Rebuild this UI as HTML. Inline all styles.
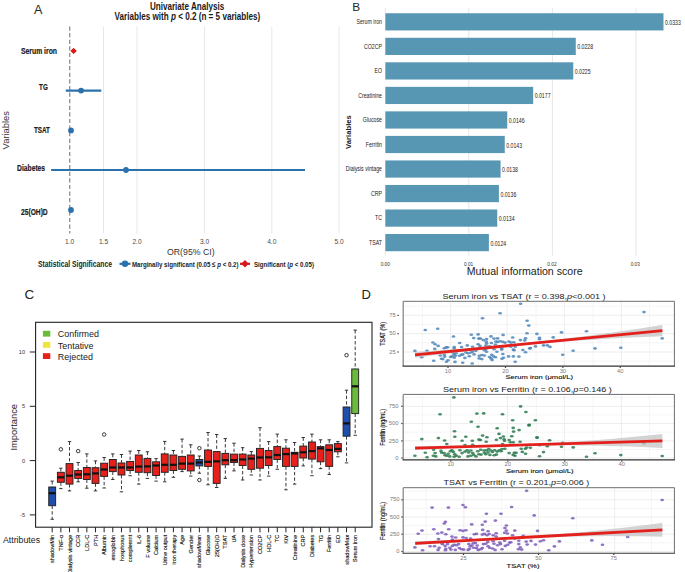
<!DOCTYPE html>
<html><head><meta charset="utf-8"><title>Figure</title>
<style>
html,body{margin:0;padding:0;background:#fff;}
body{width:685px;height:572px;overflow:hidden;}
svg{display:block;font-family:"Liberation Sans",sans-serif;}
</style></head>
<body>
<svg width="685" height="572" viewBox="0 0 685 572">
<rect width="685" height="572" fill="#fff"/>
<text x="34.00" y="14.00" font-size="12.6" fill="#222">A</text>
<text x="187.10" y="9.80" font-size="10.6" fill="#1a1a1a" font-weight="bold" text-anchor="middle" textLength="74.4" lengthAdjust="spacingAndGlyphs">Univariate Analysis</text>
<text x="187.40" y="19.60" font-size="10.6" fill="#1a1a1a" font-weight="bold" text-anchor="middle" textLength="145.8" lengthAdjust="spacingAndGlyphs">Variables with <tspan font-style="italic">p</tspan> &lt; 0.2 (n = 5 variables)</text>
<line x1="103.50" y1="26.50" x2="103.50" y2="233.50" stroke="#e7e7e7" stroke-width="1" />
<line x1="137.00" y1="26.50" x2="137.00" y2="233.50" stroke="#e7e7e7" stroke-width="1" />
<line x1="204.50" y1="26.50" x2="204.50" y2="233.50" stroke="#e7e7e7" stroke-width="1" />
<line x1="271.80" y1="26.50" x2="271.80" y2="233.50" stroke="#e7e7e7" stroke-width="1" />
<line x1="339.00" y1="26.50" x2="339.00" y2="233.50" stroke="#e7e7e7" stroke-width="1" />
<line x1="69.70" y1="26.50" x2="69.70" y2="233.50" stroke="#8f8f8f" stroke-width="1.3" stroke-dasharray="4.2 2.4"/>
<polygon points="70.4,50.9 73.6,47.7 76.8,50.9 73.6,54.1" fill="#d7191c"/>
<line x1="65.80" y1="90.60" x2="101.30" y2="90.60" stroke="#2b72ad" stroke-width="2.2" />
<circle cx="81.10" cy="90.60" r="2.90" fill="#2b72ad" />
<circle cx="71.00" cy="130.40" r="2.90" fill="#2b72ad" />
<line x1="51.10" y1="170.00" x2="305.00" y2="170.00" stroke="#2b72ad" stroke-width="2.2" />
<circle cx="126.00" cy="170.00" r="2.90" fill="#2b72ad" />
<circle cx="71.00" cy="210.00" r="2.90" fill="#2b72ad" />
<text x="21.00" y="53.90" font-size="8.8" fill="#1a1a1a" font-weight="bold" textLength="36.0" lengthAdjust="spacingAndGlyphs" stroke="#1a1a1a" stroke-width="0.2">Serum iron</text>
<text x="39.10" y="89.90" font-size="8.8" fill="#1a1a1a" font-weight="bold" textLength="8.699999999999996" lengthAdjust="spacingAndGlyphs" stroke="#1a1a1a" stroke-width="0.2">TG</text>
<text x="34.00" y="133.40" font-size="8.8" fill="#1a1a1a" font-weight="bold" textLength="15.899999999999999" lengthAdjust="spacingAndGlyphs" stroke="#1a1a1a" stroke-width="0.2">TSAT</text>
<text x="17.10" y="170.70" font-size="8.8" fill="#1a1a1a" font-weight="bold" textLength="28.0" lengthAdjust="spacingAndGlyphs" stroke="#1a1a1a" stroke-width="0.2">Diabetes</text>
<text x="21.00" y="214.70" font-size="8.8" fill="#1a1a1a" font-weight="bold" textLength="26.700000000000003" lengthAdjust="spacingAndGlyphs" stroke="#1a1a1a" stroke-width="0.2">25(OH)D</text>
<text transform="translate(9.40,130.20) rotate(-90)" x="0" y="0" font-size="9.0" fill="#333" text-anchor="middle" textLength="38.4" lengthAdjust="spacingAndGlyphs">Variables</text>
<text x="69.70" y="244.00" font-size="7.6" fill="#4a4a4a" text-anchor="middle" textLength="9.2" lengthAdjust="spacingAndGlyphs">1.0</text>
<text x="103.50" y="244.00" font-size="7.6" fill="#4a4a4a" text-anchor="middle" textLength="9.2" lengthAdjust="spacingAndGlyphs">1.5</text>
<text x="137.00" y="244.00" font-size="7.6" fill="#4a4a4a" text-anchor="middle" textLength="9.2" lengthAdjust="spacingAndGlyphs">2.0</text>
<text x="204.50" y="244.00" font-size="7.6" fill="#4a4a4a" text-anchor="middle" textLength="9.2" lengthAdjust="spacingAndGlyphs">3.0</text>
<text x="271.80" y="244.00" font-size="7.6" fill="#4a4a4a" text-anchor="middle" textLength="9.2" lengthAdjust="spacingAndGlyphs">4.0</text>
<text x="339.00" y="244.00" font-size="7.6" fill="#4a4a4a" text-anchor="middle" textLength="9.2" lengthAdjust="spacingAndGlyphs">5.0</text>
<text x="190.80" y="254.60" font-size="8.8" fill="#333" text-anchor="middle" textLength="47.6" lengthAdjust="spacingAndGlyphs">OR(95% CI)</text>
<text x="38.00" y="266.60" font-size="8.6" fill="#222" font-weight="bold" textLength="74.0" lengthAdjust="spacingAndGlyphs">Statistical Significance</text>
<line x1="119.50" y1="263.80" x2="130.50" y2="263.80" stroke="#2b72ad" stroke-width="2.2" />
<circle cx="125.00" cy="263.80" r="3.20" fill="#2b72ad" />
<text x="132.00" y="266.70" font-size="8.0" fill="#222" font-weight="bold" textLength="106.5" lengthAdjust="spacingAndGlyphs">Marginally significant (0.05 ≤ <tspan font-style="italic">p</tspan> &lt; 0.2)</text>
<line x1="240.00" y1="263.80" x2="250.00" y2="263.80" stroke="#d7191c" stroke-width="2.2" />
<polygon points="241.3,263.8 245.0,260.1 248.7,263.8 245.0,267.5" fill="#d7191c"/>
<text x="254.00" y="266.70" font-size="8.0" fill="#222" font-weight="bold" textLength="60.0" lengthAdjust="spacingAndGlyphs">Significant (<tspan font-style="italic">p</tspan> &lt; 0.05)</text>
<text x="352.30" y="10.80" font-size="11.8" fill="#222">B</text>
<line x1="468.80" y1="7.70" x2="468.80" y2="255.70" stroke="#e6e6e6" stroke-width="1" />
<line x1="552.40" y1="7.70" x2="552.40" y2="255.70" stroke="#e6e6e6" stroke-width="1" />
<line x1="635.90" y1="7.70" x2="635.90" y2="255.70" stroke="#e6e6e6" stroke-width="1" />
<rect x="385.30" y="13.25" width="278.19" height="17.20" fill="#5797b4" />
<text x="382.00" y="24.25" font-size="7.3" fill="#222" text-anchor="end" textLength="25.526861851562497" lengthAdjust="spacingAndGlyphs">Serum iron</text>
<text x="664.99" y="24.85" font-size="7.2" fill="#222" textLength="15.855831" lengthAdjust="spacingAndGlyphs">0.0333</text>
<rect x="385.30" y="37.78" width="190.47" height="17.20" fill="#5797b4" />
<text x="382.00" y="48.78" font-size="7.3" fill="#222" text-anchor="end" textLength="17.9828901484375" lengthAdjust="spacingAndGlyphs">CO2CP</text>
<text x="577.27" y="49.38" font-size="7.2" fill="#222" textLength="15.855831" lengthAdjust="spacingAndGlyphs">0.0228</text>
<rect x="385.30" y="62.31" width="187.97" height="17.20" fill="#5797b4" />
<text x="382.00" y="73.31" font-size="7.3" fill="#222" text-anchor="end" textLength="7.541280398437499" lengthAdjust="spacingAndGlyphs">EO</text>
<text x="574.76" y="73.91" font-size="7.2" fill="#222" textLength="15.855831" lengthAdjust="spacingAndGlyphs">0.0225</text>
<rect x="385.30" y="86.84" width="147.87" height="17.20" fill="#5797b4" />
<text x="382.00" y="97.84" font-size="7.3" fill="#222" text-anchor="end" textLength="23.7912149921875" lengthAdjust="spacingAndGlyphs">Creatinine</text>
<text x="534.67" y="98.44" font-size="7.2" fill="#222" textLength="15.855831" lengthAdjust="spacingAndGlyphs">0.0177</text>
<rect x="385.30" y="111.37" width="121.97" height="17.20" fill="#5797b4" />
<text x="382.00" y="122.37" font-size="7.3" fill="#222" text-anchor="end" textLength="19.147572640625" lengthAdjust="spacingAndGlyphs">Glucose</text>
<text x="508.77" y="122.97" font-size="7.2" fill="#222" textLength="15.855831" lengthAdjust="spacingAndGlyphs">0.0146</text>
<rect x="385.30" y="135.90" width="119.46" height="17.20" fill="#5797b4" />
<text x="382.00" y="146.90" font-size="7.3" fill="#222" text-anchor="end" textLength="16.2397402578125" lengthAdjust="spacingAndGlyphs">Ferritin</text>
<text x="506.26" y="147.50" font-size="7.2" fill="#222" textLength="15.855831" lengthAdjust="spacingAndGlyphs">0.0143</text>
<rect x="385.30" y="160.43" width="115.29" height="17.20" fill="#5797b4" />
<text x="382.00" y="171.43" font-size="7.3" fill="#222" text-anchor="end" textLength="36.261416039062496" lengthAdjust="spacingAndGlyphs">Dialysis vintage</text>
<text x="502.09" y="172.03" font-size="7.2" fill="#222" textLength="15.855831" lengthAdjust="spacingAndGlyphs">0.0138</text>
<rect x="385.30" y="184.96" width="113.61" height="17.20" fill="#5797b4" />
<text x="382.00" y="195.96" font-size="7.3" fill="#222" text-anchor="end" textLength="11.020158703125" lengthAdjust="spacingAndGlyphs">CRP</text>
<text x="500.41" y="196.56" font-size="7.2" fill="#222" textLength="15.855831" lengthAdjust="spacingAndGlyphs">0.0136</text>
<rect x="385.30" y="209.49" width="111.94" height="17.20" fill="#5797b4" />
<text x="382.00" y="220.49" font-size="7.3" fill="#222" text-anchor="end" textLength="6.9576750546875" lengthAdjust="spacingAndGlyphs">TC</text>
<text x="498.74" y="221.09" font-size="7.2" fill="#222" textLength="15.855831" lengthAdjust="spacingAndGlyphs">0.0134</text>
<rect x="385.30" y="234.02" width="103.59" height="17.20" fill="#5797b4" />
<text x="382.00" y="245.02" font-size="7.3" fill="#222" text-anchor="end" textLength="12.952026140624998" lengthAdjust="spacingAndGlyphs">TSAT</text>
<text x="490.39" y="245.62" font-size="7.2" fill="#222" textLength="15.855831" lengthAdjust="spacingAndGlyphs">0.0124</text>
<text transform="translate(351.20,132.00) rotate(-90)" x="0" y="0" font-size="7.4" fill="#222" font-weight="bold" text-anchor="middle" textLength="33.8" lengthAdjust="spacingAndGlyphs">Variables</text>
<line x1="385.30" y1="251.00" x2="385.30" y2="255.60" stroke="#e6e6e6" stroke-width="1" />
<line x1="385.30" y1="7.70" x2="385.30" y2="13.20" stroke="#e6e6e6" stroke-width="1" />
<text x="385.30" y="265.60" font-size="5.8" fill="#333" text-anchor="middle" textLength="9.3" lengthAdjust="spacingAndGlyphs">0.00</text>
<text x="468.60" y="265.60" font-size="5.8" fill="#333" text-anchor="middle" textLength="9.3" lengthAdjust="spacingAndGlyphs">0.01</text>
<text x="552.00" y="265.60" font-size="5.8" fill="#333" text-anchor="middle" textLength="9.3" lengthAdjust="spacingAndGlyphs">0.02</text>
<text x="635.30" y="265.60" font-size="5.8" fill="#333" text-anchor="middle" textLength="9.3" lengthAdjust="spacingAndGlyphs">0.03</text>
<text x="466.70" y="274.50" font-size="10.4" fill="#222" textLength="115.9" lengthAdjust="spacingAndGlyphs">Mutual information score</text>
<text x="24.50" y="298.90" font-size="13.4" fill="#222">C</text>
<rect x="35.60" y="322.30" width="336.40" height="204.90" fill="none" stroke="#222" stroke-width="1.1" />
<rect x="42.90" y="330.80" width="7.40" height="5.80" fill="#6cba3c" />
<text x="57.80" y="337.40" font-size="9.6" fill="#222" textLength="41.1833295" lengthAdjust="spacingAndGlyphs">Confirmed</text>
<rect x="42.90" y="342.00" width="7.40" height="5.80" fill="#f0e33a" />
<text x="57.80" y="348.60" font-size="9.6" fill="#222" textLength="35.7339015" lengthAdjust="spacingAndGlyphs">Tentative</text>
<rect x="42.90" y="353.20" width="7.40" height="5.80" fill="#e8201c" />
<text x="57.80" y="359.80" font-size="9.6" fill="#222" textLength="35.237002499999996" lengthAdjust="spacingAndGlyphs">Rejected</text>
<line x1="29.80" y1="352.00" x2="35.60" y2="352.00" stroke="#222" stroke-width="1" />
<text x="25.00" y="354.00" font-size="5.6" fill="#333" text-anchor="end">10</text>
<line x1="29.80" y1="406.30" x2="35.60" y2="406.30" stroke="#222" stroke-width="1" />
<text x="25.00" y="408.30" font-size="5.6" fill="#333" text-anchor="end">5</text>
<line x1="29.80" y1="460.60" x2="35.60" y2="460.60" stroke="#222" stroke-width="1" />
<text x="25.00" y="462.60" font-size="5.6" fill="#333" text-anchor="end">0</text>
<line x1="29.80" y1="514.90" x2="35.60" y2="514.90" stroke="#222" stroke-width="1" />
<text x="25.00" y="516.90" font-size="5.6" fill="#333" text-anchor="end">-5</text>
<text transform="translate(17.20,427.30) rotate(-90)" x="0" y="0" font-size="9.3" fill="#222" text-anchor="middle" textLength="46.6" lengthAdjust="spacingAndGlyphs">Importance</text>
<text x="2.90" y="543.20" font-size="9.6" fill="#222" textLength="37.2" lengthAdjust="spacingAndGlyphs">Attributes</text>
<line x1="52.20" y1="481.10" x2="52.20" y2="487.00" stroke="#222" stroke-width="0.9" stroke-dasharray="3.4 2.1"/>
<line x1="52.20" y1="505.70" x2="52.20" y2="519.30" stroke="#222" stroke-width="0.9" stroke-dasharray="3.4 2.1"/>
<line x1="50.50" y1="481.10" x2="53.90" y2="481.10" stroke="#222" stroke-width="0.9" />
<line x1="50.50" y1="519.30" x2="53.90" y2="519.30" stroke="#222" stroke-width="0.9" />
<rect x="48.75" y="487.00" width="6.90" height="18.70" fill="#1d4fab" stroke="#222" stroke-width="0.95" />
<line x1="48.75" y1="493.20" x2="55.65" y2="493.20" stroke="#111" stroke-width="2.2" />
<line x1="52.20" y1="527.20" x2="52.20" y2="532.30" stroke="#222" stroke-width="1" />
<text transform="translate(54.30,534.80) rotate(-90)" x="0" y="0" font-size="5.6" fill="#111" text-anchor="end" stroke="#111" stroke-width="0.12">shadowMin</text>
<line x1="60.86" y1="468.20" x2="60.86" y2="472.30" stroke="#222" stroke-width="0.9" stroke-dasharray="3.4 2.1"/>
<line x1="60.86" y1="482.30" x2="60.86" y2="488.60" stroke="#222" stroke-width="0.9" stroke-dasharray="3.4 2.1"/>
<line x1="59.16" y1="468.20" x2="62.56" y2="468.20" stroke="#222" stroke-width="0.9" />
<line x1="59.16" y1="488.60" x2="62.56" y2="488.60" stroke="#222" stroke-width="0.9" />
<rect x="57.41" y="472.30" width="6.90" height="10.00" fill="#e8201c" stroke="#222" stroke-width="0.95" />
<line x1="57.41" y1="477.30" x2="64.31" y2="477.30" stroke="#111" stroke-width="2.2" />
<circle cx="60.86" cy="449.30" r="1.75" fill="none" stroke="#222" stroke-width="0.9"/>
<line x1="60.86" y1="527.20" x2="60.86" y2="532.30" stroke="#222" stroke-width="1" />
<text transform="translate(62.96,534.80) rotate(-90)" x="0" y="0" font-size="5.6" fill="#111" text-anchor="end" stroke="#111" stroke-width="0.12">TNF-α</text>
<line x1="69.51" y1="441.60" x2="69.51" y2="463.60" stroke="#222" stroke-width="0.9" stroke-dasharray="3.4 2.1"/>
<line x1="69.51" y1="484.10" x2="69.51" y2="490.90" stroke="#222" stroke-width="0.9" stroke-dasharray="3.4 2.1"/>
<line x1="67.81" y1="441.60" x2="71.21" y2="441.60" stroke="#222" stroke-width="0.9" />
<line x1="67.81" y1="490.90" x2="71.21" y2="490.90" stroke="#222" stroke-width="0.9" />
<rect x="66.06" y="463.60" width="6.90" height="20.50" fill="#e8201c" stroke="#222" stroke-width="0.95" />
<line x1="66.06" y1="475.70" x2="72.96" y2="475.70" stroke="#111" stroke-width="2.2" />
<line x1="69.51" y1="527.20" x2="69.51" y2="532.30" stroke="#222" stroke-width="1" />
<text transform="translate(71.61,534.80) rotate(-90)" x="0" y="0" font-size="5.6" fill="#111" text-anchor="end" stroke="#111" stroke-width="0.12">Dialysis vintage</text>
<line x1="78.17" y1="462.50" x2="78.17" y2="470.50" stroke="#222" stroke-width="0.9" stroke-dasharray="3.4 2.1"/>
<line x1="78.17" y1="478.40" x2="78.17" y2="481.80" stroke="#222" stroke-width="0.9" stroke-dasharray="3.4 2.1"/>
<line x1="76.47" y1="462.50" x2="79.87" y2="462.50" stroke="#222" stroke-width="0.9" />
<line x1="76.47" y1="481.80" x2="79.87" y2="481.80" stroke="#222" stroke-width="0.9" />
<rect x="74.72" y="470.50" width="6.90" height="7.90" fill="#e8201c" stroke="#222" stroke-width="0.95" />
<line x1="74.72" y1="474.50" x2="81.62" y2="474.50" stroke="#111" stroke-width="2.2" />
<circle cx="78.17" cy="451.10" r="1.75" fill="none" stroke="#222" stroke-width="0.9"/>
<line x1="78.17" y1="527.20" x2="78.17" y2="532.30" stroke="#222" stroke-width="1" />
<text transform="translate(80.27,534.80) rotate(-90)" x="0" y="0" font-size="5.6" fill="#111" text-anchor="end" stroke="#111" stroke-width="0.12">CCR</text>
<line x1="86.83" y1="453.90" x2="86.83" y2="467.50" stroke="#222" stroke-width="0.9" stroke-dasharray="3.4 2.1"/>
<line x1="86.83" y1="479.50" x2="86.83" y2="488.20" stroke="#222" stroke-width="0.9" stroke-dasharray="3.4 2.1"/>
<line x1="85.13" y1="453.90" x2="88.53" y2="453.90" stroke="#222" stroke-width="0.9" />
<line x1="85.13" y1="488.20" x2="88.53" y2="488.20" stroke="#222" stroke-width="0.9" />
<rect x="83.38" y="467.50" width="6.90" height="12.00" fill="#e8201c" stroke="#222" stroke-width="0.95" />
<line x1="83.38" y1="474.30" x2="90.28" y2="474.30" stroke="#111" stroke-width="2.2" />
<line x1="86.83" y1="527.20" x2="86.83" y2="532.30" stroke="#222" stroke-width="1" />
<text transform="translate(88.93,534.80) rotate(-90)" x="0" y="0" font-size="5.6" fill="#111" text-anchor="end" stroke="#111" stroke-width="0.12">LDL-C</text>
<line x1="95.48" y1="460.90" x2="95.48" y2="467.70" stroke="#222" stroke-width="0.9" stroke-dasharray="3.4 2.1"/>
<line x1="95.48" y1="483.40" x2="95.48" y2="490.90" stroke="#222" stroke-width="0.9" stroke-dasharray="3.4 2.1"/>
<line x1="93.78" y1="460.90" x2="97.19" y2="460.90" stroke="#222" stroke-width="0.9" />
<line x1="93.78" y1="490.90" x2="97.19" y2="490.90" stroke="#222" stroke-width="0.9" />
<rect x="92.03" y="467.70" width="6.90" height="15.70" fill="#e8201c" stroke="#222" stroke-width="0.95" />
<line x1="92.03" y1="473.40" x2="98.94" y2="473.40" stroke="#111" stroke-width="2.2" />
<line x1="95.48" y1="527.20" x2="95.48" y2="532.30" stroke="#222" stroke-width="1" />
<text transform="translate(97.58,534.80) rotate(-90)" x="0" y="0" font-size="5.6" fill="#111" text-anchor="end" stroke="#111" stroke-width="0.12">PTH</text>
<line x1="104.14" y1="457.50" x2="104.14" y2="463.20" stroke="#222" stroke-width="0.9" stroke-dasharray="3.4 2.1"/>
<line x1="104.14" y1="476.40" x2="104.14" y2="488.00" stroke="#222" stroke-width="0.9" stroke-dasharray="3.4 2.1"/>
<line x1="102.44" y1="457.50" x2="105.84" y2="457.50" stroke="#222" stroke-width="0.9" />
<line x1="102.44" y1="488.00" x2="105.84" y2="488.00" stroke="#222" stroke-width="0.9" />
<rect x="100.69" y="463.20" width="6.90" height="13.20" fill="#e8201c" stroke="#222" stroke-width="0.95" />
<line x1="100.69" y1="469.50" x2="107.59" y2="469.50" stroke="#111" stroke-width="2.2" />
<circle cx="104.14" cy="434.50" r="1.75" fill="none" stroke="#222" stroke-width="0.9"/>
<line x1="104.14" y1="527.20" x2="104.14" y2="532.30" stroke="#222" stroke-width="1" />
<text transform="translate(106.24,534.80) rotate(-90)" x="0" y="0" font-size="5.6" fill="#111" text-anchor="end" stroke="#111" stroke-width="0.12">Albumin</text>
<line x1="112.80" y1="453.90" x2="112.80" y2="459.50" stroke="#222" stroke-width="0.9" stroke-dasharray="3.4 2.1"/>
<line x1="112.80" y1="471.60" x2="112.80" y2="479.50" stroke="#222" stroke-width="0.9" stroke-dasharray="3.4 2.1"/>
<line x1="111.10" y1="453.90" x2="114.50" y2="453.90" stroke="#222" stroke-width="0.9" />
<line x1="111.10" y1="479.50" x2="114.50" y2="479.50" stroke="#222" stroke-width="0.9" />
<rect x="109.35" y="459.50" width="6.90" height="12.10" fill="#e8201c" stroke="#222" stroke-width="0.95" />
<line x1="109.35" y1="467.50" x2="116.25" y2="467.50" stroke="#111" stroke-width="2.2" />
<line x1="112.80" y1="527.20" x2="112.80" y2="532.30" stroke="#222" stroke-width="1" />
<text transform="translate(114.90,534.80) rotate(-90)" x="0" y="0" font-size="5.6" fill="#111" text-anchor="end" stroke="#111" stroke-width="0.12">emoglobin</text>
<line x1="121.46" y1="454.50" x2="121.46" y2="463.00" stroke="#222" stroke-width="0.9" stroke-dasharray="3.4 2.1"/>
<line x1="121.46" y1="475.00" x2="121.46" y2="491.80" stroke="#222" stroke-width="0.9" stroke-dasharray="3.4 2.1"/>
<line x1="119.76" y1="454.50" x2="123.16" y2="454.50" stroke="#222" stroke-width="0.9" />
<line x1="119.76" y1="491.80" x2="123.16" y2="491.80" stroke="#222" stroke-width="0.9" />
<rect x="118.01" y="463.00" width="6.90" height="12.00" fill="#e8201c" stroke="#222" stroke-width="0.95" />
<line x1="118.01" y1="467.50" x2="124.91" y2="467.50" stroke="#111" stroke-width="2.2" />
<line x1="121.46" y1="527.20" x2="121.46" y2="532.30" stroke="#222" stroke-width="1" />
<text transform="translate(123.56,534.80) rotate(-90)" x="0" y="0" font-size="5.6" fill="#111" text-anchor="end" stroke="#111" stroke-width="0.12">hosphorus</text>
<line x1="130.11" y1="451.10" x2="130.11" y2="461.40" stroke="#222" stroke-width="0.9" stroke-dasharray="3.4 2.1"/>
<line x1="130.11" y1="470.50" x2="130.11" y2="475.70" stroke="#222" stroke-width="0.9" stroke-dasharray="3.4 2.1"/>
<line x1="128.41" y1="451.10" x2="131.81" y2="451.10" stroke="#222" stroke-width="0.9" />
<line x1="128.41" y1="475.70" x2="131.81" y2="475.70" stroke="#222" stroke-width="0.9" />
<rect x="126.66" y="461.40" width="6.90" height="9.10" fill="#e8201c" stroke="#222" stroke-width="0.95" />
<line x1="126.66" y1="467.50" x2="133.56" y2="467.50" stroke="#111" stroke-width="2.2" />
<line x1="130.11" y1="527.20" x2="130.11" y2="532.30" stroke="#222" stroke-width="1" />
<text transform="translate(132.21,534.80) rotate(-90)" x="0" y="0" font-size="5.6" fill="#111" text-anchor="end" stroke="#111" stroke-width="0.12">complemnt</text>
<line x1="138.77" y1="450.50" x2="138.77" y2="455.00" stroke="#222" stroke-width="0.9" stroke-dasharray="3.4 2.1"/>
<line x1="138.77" y1="472.30" x2="138.77" y2="484.10" stroke="#222" stroke-width="0.9" stroke-dasharray="3.4 2.1"/>
<line x1="137.07" y1="450.50" x2="140.47" y2="450.50" stroke="#222" stroke-width="0.9" />
<line x1="137.07" y1="484.10" x2="140.47" y2="484.10" stroke="#222" stroke-width="0.9" />
<rect x="135.32" y="455.00" width="6.90" height="17.30" fill="#e8201c" stroke="#222" stroke-width="0.95" />
<line x1="135.32" y1="466.60" x2="142.22" y2="466.60" stroke="#111" stroke-width="2.2" />
<line x1="138.77" y1="527.20" x2="138.77" y2="532.30" stroke="#222" stroke-width="1" />
<text transform="translate(140.87,534.80) rotate(-90)" x="0" y="0" font-size="5.6" fill="#111" text-anchor="end" stroke="#111" stroke-width="0.12">IL-6</text>
<line x1="147.43" y1="451.80" x2="147.43" y2="458.40" stroke="#222" stroke-width="0.9" stroke-dasharray="3.4 2.1"/>
<line x1="147.43" y1="472.70" x2="147.43" y2="478.40" stroke="#222" stroke-width="0.9" stroke-dasharray="3.4 2.1"/>
<line x1="145.73" y1="451.80" x2="149.13" y2="451.80" stroke="#222" stroke-width="0.9" />
<line x1="145.73" y1="478.40" x2="149.13" y2="478.40" stroke="#222" stroke-width="0.9" />
<rect x="143.98" y="458.40" width="6.90" height="14.30" fill="#e8201c" stroke="#222" stroke-width="0.95" />
<line x1="143.98" y1="466.40" x2="150.88" y2="466.40" stroke="#111" stroke-width="2.2" />
<line x1="147.43" y1="527.20" x2="147.43" y2="532.30" stroke="#222" stroke-width="1" />
<text transform="translate(149.53,534.80) rotate(-90)" x="0" y="0" font-size="5.6" fill="#111" text-anchor="end" stroke="#111" stroke-width="0.12">F volume</text>
<line x1="156.08" y1="458.60" x2="156.08" y2="461.80" stroke="#222" stroke-width="0.9" stroke-dasharray="3.4 2.1"/>
<line x1="156.08" y1="475.50" x2="156.08" y2="481.10" stroke="#222" stroke-width="0.9" stroke-dasharray="3.4 2.1"/>
<line x1="154.38" y1="458.60" x2="157.78" y2="458.60" stroke="#222" stroke-width="0.9" />
<line x1="154.38" y1="481.10" x2="157.78" y2="481.10" stroke="#222" stroke-width="0.9" />
<rect x="152.63" y="461.80" width="6.90" height="13.70" fill="#e8201c" stroke="#222" stroke-width="0.95" />
<line x1="152.63" y1="465.50" x2="159.53" y2="465.50" stroke="#111" stroke-width="2.2" />
<line x1="156.08" y1="527.20" x2="156.08" y2="532.30" stroke="#222" stroke-width="1" />
<text transform="translate(158.18,534.80) rotate(-90)" x="0" y="0" font-size="5.6" fill="#111" text-anchor="end" stroke="#111" stroke-width="0.12">Calcium</text>
<line x1="164.74" y1="441.40" x2="164.74" y2="453.90" stroke="#222" stroke-width="0.9" stroke-dasharray="3.4 2.1"/>
<line x1="164.74" y1="472.30" x2="164.74" y2="481.80" stroke="#222" stroke-width="0.9" stroke-dasharray="3.4 2.1"/>
<line x1="163.04" y1="441.40" x2="166.44" y2="441.40" stroke="#222" stroke-width="0.9" />
<line x1="163.04" y1="481.80" x2="166.44" y2="481.80" stroke="#222" stroke-width="0.9" />
<rect x="161.29" y="453.90" width="6.90" height="18.40" fill="#e8201c" stroke="#222" stroke-width="0.95" />
<line x1="161.29" y1="464.80" x2="168.19" y2="464.80" stroke="#111" stroke-width="2.2" />
<line x1="164.74" y1="527.20" x2="164.74" y2="532.30" stroke="#222" stroke-width="1" />
<text transform="translate(166.84,534.80) rotate(-90)" x="0" y="0" font-size="5.6" fill="#111" text-anchor="end" stroke="#111" stroke-width="0.12">Urine output</text>
<line x1="173.40" y1="450.50" x2="173.40" y2="455.00" stroke="#222" stroke-width="0.9" stroke-dasharray="3.4 2.1"/>
<line x1="173.40" y1="470.50" x2="173.40" y2="477.30" stroke="#222" stroke-width="0.9" stroke-dasharray="3.4 2.1"/>
<line x1="171.70" y1="450.50" x2="175.10" y2="450.50" stroke="#222" stroke-width="0.9" />
<line x1="171.70" y1="477.30" x2="175.10" y2="477.30" stroke="#222" stroke-width="0.9" />
<rect x="169.95" y="455.00" width="6.90" height="15.50" fill="#e8201c" stroke="#222" stroke-width="0.95" />
<line x1="169.95" y1="464.80" x2="176.85" y2="464.80" stroke="#111" stroke-width="2.2" />
<line x1="173.40" y1="527.20" x2="173.40" y2="532.30" stroke="#222" stroke-width="1" />
<text transform="translate(175.50,534.80) rotate(-90)" x="0" y="0" font-size="5.6" fill="#111" text-anchor="end" stroke="#111" stroke-width="0.12">Iron therapy</text>
<line x1="182.06" y1="439.10" x2="182.06" y2="456.40" stroke="#222" stroke-width="0.9" stroke-dasharray="3.4 2.1"/>
<line x1="182.06" y1="469.30" x2="182.06" y2="471.60" stroke="#222" stroke-width="0.9" stroke-dasharray="3.4 2.1"/>
<line x1="180.36" y1="439.10" x2="183.75" y2="439.10" stroke="#222" stroke-width="0.9" />
<line x1="180.36" y1="471.60" x2="183.75" y2="471.60" stroke="#222" stroke-width="0.9" />
<rect x="178.61" y="456.40" width="6.90" height="12.90" fill="#e8201c" stroke="#222" stroke-width="0.95" />
<line x1="178.61" y1="463.60" x2="185.50" y2="463.60" stroke="#111" stroke-width="2.2" />
<line x1="182.06" y1="527.20" x2="182.06" y2="532.30" stroke="#222" stroke-width="1" />
<text transform="translate(184.16,534.80) rotate(-90)" x="0" y="0" font-size="5.6" fill="#111" text-anchor="end" stroke="#111" stroke-width="0.12">Age</text>
<line x1="190.71" y1="444.80" x2="190.71" y2="455.00" stroke="#222" stroke-width="0.9" stroke-dasharray="3.4 2.1"/>
<line x1="190.71" y1="470.90" x2="190.71" y2="476.10" stroke="#222" stroke-width="0.9" stroke-dasharray="3.4 2.1"/>
<line x1="189.01" y1="444.80" x2="192.41" y2="444.80" stroke="#222" stroke-width="0.9" />
<line x1="189.01" y1="476.10" x2="192.41" y2="476.10" stroke="#222" stroke-width="0.9" />
<rect x="187.26" y="455.00" width="6.90" height="15.90" fill="#e8201c" stroke="#222" stroke-width="0.95" />
<line x1="187.26" y1="463.60" x2="194.16" y2="463.60" stroke="#111" stroke-width="2.2" />
<line x1="190.71" y1="527.20" x2="190.71" y2="532.30" stroke="#222" stroke-width="1" />
<text transform="translate(192.81,534.80) rotate(-90)" x="0" y="0" font-size="5.6" fill="#111" text-anchor="end" stroke="#111" stroke-width="0.12">Gender</text>
<line x1="199.37" y1="456.00" x2="199.37" y2="459.50" stroke="#222" stroke-width="0.9" stroke-dasharray="3.4 2.1"/>
<line x1="199.37" y1="465.90" x2="199.37" y2="473.20" stroke="#222" stroke-width="0.9" stroke-dasharray="3.4 2.1"/>
<line x1="197.67" y1="456.00" x2="201.07" y2="456.00" stroke="#222" stroke-width="0.9" />
<line x1="197.67" y1="473.20" x2="201.07" y2="473.20" stroke="#222" stroke-width="0.9" />
<rect x="195.92" y="459.50" width="6.90" height="6.40" fill="#1d4fab" stroke="#222" stroke-width="0.95" />
<line x1="195.92" y1="462.50" x2="202.82" y2="462.50" stroke="#111" stroke-width="2.2" />
<circle cx="199.37" cy="448.20" r="1.75" fill="none" stroke="#222" stroke-width="0.9"/>
<circle cx="199.37" cy="480.00" r="1.75" fill="none" stroke="#222" stroke-width="0.9"/>
<line x1="199.37" y1="527.20" x2="199.37" y2="532.30" stroke="#222" stroke-width="1" />
<text transform="translate(201.47,534.80) rotate(-90)" x="0" y="0" font-size="5.6" fill="#111" text-anchor="end" stroke="#111" stroke-width="0.12">shadowMean</text>
<line x1="208.03" y1="432.50" x2="208.03" y2="450.00" stroke="#222" stroke-width="0.9" stroke-dasharray="3.4 2.1"/>
<line x1="208.03" y1="466.40" x2="208.03" y2="484.80" stroke="#222" stroke-width="0.9" stroke-dasharray="3.4 2.1"/>
<line x1="206.33" y1="432.50" x2="209.73" y2="432.50" stroke="#222" stroke-width="0.9" />
<line x1="206.33" y1="484.80" x2="209.73" y2="484.80" stroke="#222" stroke-width="0.9" />
<rect x="204.58" y="450.00" width="6.90" height="16.40" fill="#e8201c" stroke="#222" stroke-width="0.95" />
<line x1="204.58" y1="461.80" x2="211.48" y2="461.80" stroke="#111" stroke-width="2.2" />
<line x1="208.03" y1="527.20" x2="208.03" y2="532.30" stroke="#222" stroke-width="1" />
<text transform="translate(210.13,534.80) rotate(-90)" x="0" y="0" font-size="5.6" fill="#111" text-anchor="end" stroke="#111" stroke-width="0.12">Glucose</text>
<line x1="216.68" y1="434.50" x2="216.68" y2="451.60" stroke="#222" stroke-width="0.9" stroke-dasharray="3.4 2.1"/>
<line x1="216.68" y1="483.40" x2="216.68" y2="487.50" stroke="#222" stroke-width="0.9" stroke-dasharray="3.4 2.1"/>
<line x1="214.98" y1="434.50" x2="218.38" y2="434.50" stroke="#222" stroke-width="0.9" />
<line x1="214.98" y1="487.50" x2="218.38" y2="487.50" stroke="#222" stroke-width="0.9" />
<rect x="213.23" y="451.60" width="6.90" height="31.80" fill="#e8201c" stroke="#222" stroke-width="0.95" />
<line x1="213.23" y1="461.40" x2="220.13" y2="461.40" stroke="#111" stroke-width="2.2" />
<line x1="216.68" y1="527.20" x2="216.68" y2="532.30" stroke="#222" stroke-width="1" />
<text transform="translate(218.78,534.80) rotate(-90)" x="0" y="0" font-size="5.6" fill="#111" text-anchor="end" stroke="#111" stroke-width="0.12">25(OH)D</text>
<line x1="225.34" y1="438.60" x2="225.34" y2="453.40" stroke="#222" stroke-width="0.9" stroke-dasharray="3.4 2.1"/>
<line x1="225.34" y1="464.80" x2="225.34" y2="478.40" stroke="#222" stroke-width="0.9" stroke-dasharray="3.4 2.1"/>
<line x1="223.64" y1="438.60" x2="227.04" y2="438.60" stroke="#222" stroke-width="0.9" />
<line x1="223.64" y1="478.40" x2="227.04" y2="478.40" stroke="#222" stroke-width="0.9" />
<rect x="221.89" y="453.40" width="6.90" height="11.40" fill="#e8201c" stroke="#222" stroke-width="0.95" />
<line x1="221.89" y1="460.20" x2="228.79" y2="460.20" stroke="#111" stroke-width="2.2" />
<line x1="225.34" y1="527.20" x2="225.34" y2="532.30" stroke="#222" stroke-width="1" />
<text transform="translate(227.44,534.80) rotate(-90)" x="0" y="0" font-size="5.6" fill="#111" text-anchor="end" stroke="#111" stroke-width="0.12">TSAT</text>
<line x1="234.00" y1="443.20" x2="234.00" y2="454.10" stroke="#222" stroke-width="0.9" stroke-dasharray="3.4 2.1"/>
<line x1="234.00" y1="462.50" x2="234.00" y2="470.90" stroke="#222" stroke-width="0.9" stroke-dasharray="3.4 2.1"/>
<line x1="232.30" y1="443.20" x2="235.70" y2="443.20" stroke="#222" stroke-width="0.9" />
<line x1="232.30" y1="470.90" x2="235.70" y2="470.90" stroke="#222" stroke-width="0.9" />
<rect x="230.55" y="454.10" width="6.90" height="8.40" fill="#e8201c" stroke="#222" stroke-width="0.95" />
<line x1="230.55" y1="460.20" x2="237.45" y2="460.20" stroke="#111" stroke-width="2.2" />
<line x1="234.00" y1="527.20" x2="234.00" y2="532.30" stroke="#222" stroke-width="1" />
<text transform="translate(236.10,534.80) rotate(-90)" x="0" y="0" font-size="5.6" fill="#111" text-anchor="end" stroke="#111" stroke-width="0.12">UA</text>
<line x1="242.65" y1="447.70" x2="242.65" y2="454.10" stroke="#222" stroke-width="0.9" stroke-dasharray="3.4 2.1"/>
<line x1="242.65" y1="465.50" x2="242.65" y2="480.00" stroke="#222" stroke-width="0.9" stroke-dasharray="3.4 2.1"/>
<line x1="240.95" y1="447.70" x2="244.35" y2="447.70" stroke="#222" stroke-width="0.9" />
<line x1="240.95" y1="480.00" x2="244.35" y2="480.00" stroke="#222" stroke-width="0.9" />
<rect x="239.20" y="454.10" width="6.90" height="11.40" fill="#e8201c" stroke="#222" stroke-width="0.95" />
<line x1="239.20" y1="459.50" x2="246.10" y2="459.50" stroke="#111" stroke-width="2.2" />
<line x1="242.65" y1="527.20" x2="242.65" y2="532.30" stroke="#222" stroke-width="1" />
<text transform="translate(244.75,534.80) rotate(-90)" x="0" y="0" font-size="5.6" fill="#111" text-anchor="end" stroke="#111" stroke-width="0.12">Dialysis dose</text>
<line x1="251.31" y1="451.60" x2="251.31" y2="455.00" stroke="#222" stroke-width="0.9" stroke-dasharray="3.4 2.1"/>
<line x1="251.31" y1="469.30" x2="251.31" y2="475.00" stroke="#222" stroke-width="0.9" stroke-dasharray="3.4 2.1"/>
<line x1="249.61" y1="451.60" x2="253.01" y2="451.60" stroke="#222" stroke-width="0.9" />
<line x1="249.61" y1="475.00" x2="253.01" y2="475.00" stroke="#222" stroke-width="0.9" />
<rect x="247.86" y="455.00" width="6.90" height="14.30" fill="#e8201c" stroke="#222" stroke-width="0.95" />
<line x1="247.86" y1="458.60" x2="254.76" y2="458.60" stroke="#111" stroke-width="2.2" />
<line x1="251.31" y1="527.20" x2="251.31" y2="532.30" stroke="#222" stroke-width="1" />
<text transform="translate(253.41,534.80) rotate(-90)" x="0" y="0" font-size="5.6" fill="#111" text-anchor="end" stroke="#111" stroke-width="0.12">Hypertension</text>
<line x1="259.97" y1="427.70" x2="259.97" y2="448.40" stroke="#222" stroke-width="0.9" stroke-dasharray="3.4 2.1"/>
<line x1="259.97" y1="468.20" x2="259.97" y2="480.00" stroke="#222" stroke-width="0.9" stroke-dasharray="3.4 2.1"/>
<line x1="258.27" y1="427.70" x2="261.67" y2="427.70" stroke="#222" stroke-width="0.9" />
<line x1="258.27" y1="480.00" x2="261.67" y2="480.00" stroke="#222" stroke-width="0.9" />
<rect x="256.52" y="448.40" width="6.90" height="19.80" fill="#e8201c" stroke="#222" stroke-width="0.95" />
<line x1="256.52" y1="457.50" x2="263.42" y2="457.50" stroke="#111" stroke-width="2.2" />
<line x1="259.97" y1="527.20" x2="259.97" y2="532.30" stroke="#222" stroke-width="1" />
<text transform="translate(262.07,534.80) rotate(-90)" x="0" y="0" font-size="5.6" fill="#111" text-anchor="end" stroke="#111" stroke-width="0.12">CO2CP</text>
<line x1="268.62" y1="441.60" x2="268.62" y2="450.50" stroke="#222" stroke-width="0.9" stroke-dasharray="3.4 2.1"/>
<line x1="268.62" y1="465.50" x2="268.62" y2="476.10" stroke="#222" stroke-width="0.9" stroke-dasharray="3.4 2.1"/>
<line x1="266.93" y1="441.60" x2="270.32" y2="441.60" stroke="#222" stroke-width="0.9" />
<line x1="266.93" y1="476.10" x2="270.32" y2="476.10" stroke="#222" stroke-width="0.9" />
<rect x="265.18" y="450.50" width="6.90" height="15.00" fill="#e8201c" stroke="#222" stroke-width="0.95" />
<line x1="265.18" y1="457.30" x2="272.07" y2="457.30" stroke="#111" stroke-width="2.2" />
<line x1="268.62" y1="527.20" x2="268.62" y2="532.30" stroke="#222" stroke-width="1" />
<text transform="translate(270.73,534.80) rotate(-90)" x="0" y="0" font-size="5.6" fill="#111" text-anchor="end" stroke="#111" stroke-width="0.12">HDL-C</text>
<line x1="277.28" y1="434.10" x2="277.28" y2="446.60" stroke="#222" stroke-width="0.9" stroke-dasharray="3.4 2.1"/>
<line x1="277.28" y1="459.50" x2="277.28" y2="469.30" stroke="#222" stroke-width="0.9" stroke-dasharray="3.4 2.1"/>
<line x1="275.58" y1="434.10" x2="278.98" y2="434.10" stroke="#222" stroke-width="0.9" />
<line x1="275.58" y1="469.30" x2="278.98" y2="469.30" stroke="#222" stroke-width="0.9" />
<rect x="273.83" y="446.60" width="6.90" height="12.90" fill="#e8201c" stroke="#222" stroke-width="0.95" />
<line x1="273.83" y1="455.00" x2="280.73" y2="455.00" stroke="#111" stroke-width="2.2" />
<line x1="277.28" y1="527.20" x2="277.28" y2="532.30" stroke="#222" stroke-width="1" />
<text transform="translate(279.38,534.80) rotate(-90)" x="0" y="0" font-size="5.6" fill="#111" text-anchor="end" stroke="#111" stroke-width="0.12">TC</text>
<line x1="285.94" y1="439.80" x2="285.94" y2="448.20" stroke="#222" stroke-width="0.9" stroke-dasharray="3.4 2.1"/>
<line x1="285.94" y1="466.40" x2="285.94" y2="489.80" stroke="#222" stroke-width="0.9" stroke-dasharray="3.4 2.1"/>
<line x1="284.24" y1="439.80" x2="287.64" y2="439.80" stroke="#222" stroke-width="0.9" />
<line x1="284.24" y1="489.80" x2="287.64" y2="489.80" stroke="#222" stroke-width="0.9" />
<rect x="282.49" y="448.20" width="6.90" height="18.20" fill="#e8201c" stroke="#222" stroke-width="0.95" />
<line x1="282.49" y1="454.10" x2="289.39" y2="454.10" stroke="#111" stroke-width="2.2" />
<line x1="285.94" y1="527.20" x2="285.94" y2="532.30" stroke="#222" stroke-width="1" />
<text transform="translate(288.04,534.80) rotate(-90)" x="0" y="0" font-size="5.6" fill="#111" text-anchor="end" stroke="#111" stroke-width="0.12">KtV</text>
<line x1="294.60" y1="442.50" x2="294.60" y2="452.30" stroke="#222" stroke-width="0.9" stroke-dasharray="3.4 2.1"/>
<line x1="294.60" y1="466.40" x2="294.60" y2="484.10" stroke="#222" stroke-width="0.9" stroke-dasharray="3.4 2.1"/>
<line x1="292.90" y1="442.50" x2="296.30" y2="442.50" stroke="#222" stroke-width="0.9" />
<line x1="292.90" y1="484.10" x2="296.30" y2="484.10" stroke="#222" stroke-width="0.9" />
<rect x="291.15" y="452.30" width="6.90" height="14.10" fill="#e8201c" stroke="#222" stroke-width="0.95" />
<line x1="291.15" y1="453.40" x2="298.05" y2="453.40" stroke="#111" stroke-width="2.2" />
<line x1="294.60" y1="527.20" x2="294.60" y2="532.30" stroke="#222" stroke-width="1" />
<text transform="translate(296.70,534.80) rotate(-90)" x="0" y="0" font-size="5.6" fill="#111" text-anchor="end" stroke="#111" stroke-width="0.12">Creatinine</text>
<line x1="303.25" y1="437.50" x2="303.25" y2="446.10" stroke="#222" stroke-width="0.9" stroke-dasharray="3.4 2.1"/>
<line x1="303.25" y1="458.00" x2="303.25" y2="465.90" stroke="#222" stroke-width="0.9" stroke-dasharray="3.4 2.1"/>
<line x1="301.55" y1="437.50" x2="304.95" y2="437.50" stroke="#222" stroke-width="0.9" />
<line x1="301.55" y1="465.90" x2="304.95" y2="465.90" stroke="#222" stroke-width="0.9" />
<rect x="299.80" y="446.10" width="6.90" height="11.90" fill="#e8201c" stroke="#222" stroke-width="0.95" />
<line x1="299.80" y1="452.30" x2="306.70" y2="452.30" stroke="#111" stroke-width="2.2" />
<line x1="303.25" y1="527.20" x2="303.25" y2="532.30" stroke="#222" stroke-width="1" />
<text transform="translate(305.35,534.80) rotate(-90)" x="0" y="0" font-size="5.6" fill="#111" text-anchor="end" stroke="#111" stroke-width="0.12">CRP</text>
<line x1="311.91" y1="434.10" x2="311.91" y2="442.00" stroke="#222" stroke-width="0.9" stroke-dasharray="3.4 2.1"/>
<line x1="311.91" y1="459.10" x2="311.91" y2="475.70" stroke="#222" stroke-width="0.9" stroke-dasharray="3.4 2.1"/>
<line x1="310.21" y1="434.10" x2="313.61" y2="434.10" stroke="#222" stroke-width="0.9" />
<line x1="310.21" y1="475.70" x2="313.61" y2="475.70" stroke="#222" stroke-width="0.9" />
<rect x="308.46" y="442.00" width="6.90" height="17.10" fill="#e8201c" stroke="#222" stroke-width="0.95" />
<line x1="308.46" y1="451.10" x2="315.36" y2="451.10" stroke="#111" stroke-width="2.2" />
<line x1="311.91" y1="527.20" x2="311.91" y2="532.30" stroke="#222" stroke-width="1" />
<text transform="translate(314.01,534.80) rotate(-90)" x="0" y="0" font-size="5.6" fill="#111" text-anchor="end" stroke="#111" stroke-width="0.12">Diabetes</text>
<line x1="320.57" y1="439.80" x2="320.57" y2="446.60" stroke="#222" stroke-width="0.9" stroke-dasharray="3.4 2.1"/>
<line x1="320.57" y1="461.80" x2="320.57" y2="468.60" stroke="#222" stroke-width="0.9" stroke-dasharray="3.4 2.1"/>
<line x1="318.87" y1="439.80" x2="322.27" y2="439.80" stroke="#222" stroke-width="0.9" />
<line x1="318.87" y1="468.60" x2="322.27" y2="468.60" stroke="#222" stroke-width="0.9" />
<rect x="317.12" y="446.60" width="6.90" height="15.20" fill="#e8201c" stroke="#222" stroke-width="0.95" />
<line x1="317.12" y1="448.40" x2="324.02" y2="448.40" stroke="#111" stroke-width="2.2" />
<line x1="320.57" y1="527.20" x2="320.57" y2="532.30" stroke="#222" stroke-width="1" />
<text transform="translate(322.67,534.80) rotate(-90)" x="0" y="0" font-size="5.6" fill="#111" text-anchor="end" stroke="#111" stroke-width="0.12">TG</text>
<line x1="329.22" y1="439.80" x2="329.22" y2="444.80" stroke="#222" stroke-width="0.9" stroke-dasharray="3.4 2.1"/>
<line x1="329.22" y1="466.40" x2="329.22" y2="474.50" stroke="#222" stroke-width="0.9" stroke-dasharray="3.4 2.1"/>
<line x1="327.52" y1="439.80" x2="330.92" y2="439.80" stroke="#222" stroke-width="0.9" />
<line x1="327.52" y1="474.50" x2="330.92" y2="474.50" stroke="#222" stroke-width="0.9" />
<rect x="325.77" y="444.80" width="6.90" height="21.60" fill="#e8201c" stroke="#222" stroke-width="0.95" />
<line x1="325.77" y1="450.00" x2="332.67" y2="450.00" stroke="#111" stroke-width="2.2" />
<line x1="329.22" y1="527.20" x2="329.22" y2="532.30" stroke="#222" stroke-width="1" />
<text transform="translate(331.32,534.80) rotate(-90)" x="0" y="0" font-size="5.6" fill="#111" text-anchor="end" stroke="#111" stroke-width="0.12">Ferritin</text>
<line x1="337.88" y1="441.60" x2="337.88" y2="443.60" stroke="#222" stroke-width="0.9" stroke-dasharray="3.4 2.1"/>
<line x1="337.88" y1="451.80" x2="337.88" y2="456.80" stroke="#222" stroke-width="0.9" stroke-dasharray="3.4 2.1"/>
<line x1="336.18" y1="441.60" x2="339.58" y2="441.60" stroke="#222" stroke-width="0.9" />
<line x1="336.18" y1="456.80" x2="339.58" y2="456.80" stroke="#222" stroke-width="0.9" />
<rect x="334.43" y="443.60" width="6.90" height="8.20" fill="#e8201c" stroke="#222" stroke-width="0.95" />
<line x1="334.43" y1="448.90" x2="341.33" y2="448.90" stroke="#111" stroke-width="2.2" />
<line x1="337.88" y1="527.20" x2="337.88" y2="532.30" stroke="#222" stroke-width="1" />
<text transform="translate(339.98,534.80) rotate(-90)" x="0" y="0" font-size="5.6" fill="#111" text-anchor="end" stroke="#111" stroke-width="0.12">EO</text>
<line x1="346.54" y1="390.20" x2="346.54" y2="407.00" stroke="#222" stroke-width="0.9" stroke-dasharray="3.4 2.1"/>
<line x1="346.54" y1="436.20" x2="346.54" y2="462.90" stroke="#222" stroke-width="0.9" stroke-dasharray="3.4 2.1"/>
<line x1="344.84" y1="390.20" x2="348.24" y2="390.20" stroke="#222" stroke-width="0.9" />
<line x1="344.84" y1="462.90" x2="348.24" y2="462.90" stroke="#222" stroke-width="0.9" />
<rect x="343.09" y="407.00" width="6.90" height="29.20" fill="#1d4fab" stroke="#222" stroke-width="0.95" />
<line x1="343.09" y1="423.40" x2="349.99" y2="423.40" stroke="#111" stroke-width="2.2" />
<circle cx="346.54" cy="355.20" r="1.75" fill="none" stroke="#222" stroke-width="0.9"/>
<line x1="346.54" y1="527.20" x2="346.54" y2="532.30" stroke="#222" stroke-width="1" />
<text transform="translate(348.64,534.80) rotate(-90)" x="0" y="0" font-size="5.6" fill="#111" text-anchor="end" stroke="#111" stroke-width="0.12">shadowMax</text>
<line x1="355.19" y1="330.10" x2="355.19" y2="369.00" stroke="#222" stroke-width="0.9" stroke-dasharray="3.4 2.1"/>
<line x1="355.19" y1="413.60" x2="355.19" y2="435.30" stroke="#222" stroke-width="0.9" stroke-dasharray="3.4 2.1"/>
<line x1="353.50" y1="330.10" x2="356.89" y2="330.10" stroke="#222" stroke-width="0.9" />
<line x1="353.50" y1="435.30" x2="356.89" y2="435.30" stroke="#222" stroke-width="0.9" />
<rect x="351.75" y="369.00" width="6.90" height="44.60" fill="#6cba3c" stroke="#222" stroke-width="0.95" />
<line x1="351.75" y1="386.30" x2="358.64" y2="386.30" stroke="#111" stroke-width="2.2" />
<line x1="355.19" y1="527.20" x2="355.19" y2="532.30" stroke="#222" stroke-width="1" />
<text transform="translate(357.30,534.80) rotate(-90)" x="0" y="0" font-size="5.6" fill="#111" text-anchor="end" stroke="#111" stroke-width="0.12">Serum iron</text>
<text x="361.50" y="298.90" font-size="13.0" fill="#222">D</text>
<line x1="422.40" y1="301.30" x2="422.40" y2="366.10" stroke="#f3f3f3" stroke-width="0.8" />
<line x1="478.60" y1="301.30" x2="478.60" y2="366.10" stroke="#f3f3f3" stroke-width="0.8" />
<line x1="536.10" y1="301.30" x2="536.10" y2="366.10" stroke="#f3f3f3" stroke-width="0.8" />
<line x1="593.10" y1="301.30" x2="593.10" y2="366.10" stroke="#f3f3f3" stroke-width="0.8" />
<line x1="649.40" y1="301.30" x2="649.40" y2="366.10" stroke="#f3f3f3" stroke-width="0.8" />
<line x1="403.20" y1="306.20" x2="674.40" y2="306.20" stroke="#f3f3f3" stroke-width="0.8" />
<line x1="403.20" y1="324.40" x2="674.40" y2="324.40" stroke="#f3f3f3" stroke-width="0.8" />
<line x1="403.20" y1="342.80" x2="674.40" y2="342.80" stroke="#f3f3f3" stroke-width="0.8" />
<line x1="403.20" y1="361.20" x2="674.40" y2="361.20" stroke="#f3f3f3" stroke-width="0.8" />
<line x1="450.70" y1="301.30" x2="450.70" y2="366.10" stroke="#ebebeb" stroke-width="0.9" />
<line x1="507.10" y1="301.30" x2="507.10" y2="366.10" stroke="#ebebeb" stroke-width="0.9" />
<line x1="564.40" y1="301.30" x2="564.40" y2="366.10" stroke="#ebebeb" stroke-width="0.9" />
<line x1="621.40" y1="301.30" x2="621.40" y2="366.10" stroke="#ebebeb" stroke-width="0.9" />
<line x1="403.20" y1="315.30" x2="674.40" y2="315.30" stroke="#ebebeb" stroke-width="0.9" />
<line x1="403.20" y1="333.70" x2="674.40" y2="333.70" stroke="#ebebeb" stroke-width="0.9" />
<line x1="403.20" y1="352.00" x2="674.40" y2="352.00" stroke="#ebebeb" stroke-width="0.9" />
<ellipse cx="414.90" cy="350.90" rx="1.85" ry="1.3" fill="#4f86b8" fill-opacity="0.85"/>
<ellipse cx="421.70" cy="357.30" rx="1.85" ry="1.3" fill="#4f86b8" fill-opacity="0.85"/>
<ellipse cx="425.30" cy="330.00" rx="1.85" ry="1.3" fill="#4f86b8" fill-opacity="0.85"/>
<ellipse cx="427.00" cy="350.70" rx="1.85" ry="1.3" fill="#4f86b8" fill-opacity="0.85"/>
<ellipse cx="520.60" cy="303.80" rx="1.85" ry="1.3" fill="#4f86b8" fill-opacity="0.85"/>
<ellipse cx="500.10" cy="313.30" rx="1.85" ry="1.3" fill="#4f86b8" fill-opacity="0.85"/>
<ellipse cx="482.50" cy="318.20" rx="1.85" ry="1.3" fill="#4f86b8" fill-opacity="0.85"/>
<ellipse cx="527.10" cy="320.80" rx="1.85" ry="1.3" fill="#4f86b8" fill-opacity="0.85"/>
<ellipse cx="536.90" cy="333.90" rx="1.85" ry="1.3" fill="#4f86b8" fill-opacity="0.85"/>
<ellipse cx="530.40" cy="348.10" rx="1.85" ry="1.3" fill="#4f86b8" fill-opacity="0.85"/>
<ellipse cx="535.50" cy="346.40" rx="1.85" ry="1.3" fill="#4f86b8" fill-opacity="0.85"/>
<ellipse cx="539.50" cy="337.80" rx="1.85" ry="1.3" fill="#4f86b8" fill-opacity="0.85"/>
<ellipse cx="539.50" cy="339.20" rx="1.85" ry="1.3" fill="#4f86b8" fill-opacity="0.85"/>
<ellipse cx="553.20" cy="337.40" rx="1.85" ry="1.3" fill="#4f86b8" fill-opacity="0.85"/>
<ellipse cx="561.50" cy="332.40" rx="1.85" ry="1.3" fill="#4f86b8" fill-opacity="0.85"/>
<ellipse cx="586.50" cy="331.30" rx="1.85" ry="1.3" fill="#4f86b8" fill-opacity="0.85"/>
<ellipse cx="543.50" cy="345.40" rx="1.85" ry="1.3" fill="#4f86b8" fill-opacity="0.85"/>
<ellipse cx="547.30" cy="345.40" rx="1.85" ry="1.3" fill="#4f86b8" fill-opacity="0.85"/>
<ellipse cx="550.00" cy="346.90" rx="1.85" ry="1.3" fill="#4f86b8" fill-opacity="0.85"/>
<ellipse cx="562.70" cy="354.70" rx="1.85" ry="1.3" fill="#4f86b8" fill-opacity="0.85"/>
<ellipse cx="573.10" cy="350.70" rx="1.85" ry="1.3" fill="#4f86b8" fill-opacity="0.85"/>
<ellipse cx="595.00" cy="348.40" rx="1.85" ry="1.3" fill="#4f86b8" fill-opacity="0.85"/>
<ellipse cx="644.00" cy="312.10" rx="1.85" ry="1.3" fill="#4f86b8" fill-opacity="0.85"/>
<ellipse cx="620.80" cy="347.80" rx="1.85" ry="1.3" fill="#4f86b8" fill-opacity="0.85"/>
<ellipse cx="662.20" cy="338.40" rx="1.85" ry="1.3" fill="#4f86b8" fill-opacity="0.85"/>
<ellipse cx="437.70" cy="328.70" rx="1.85" ry="1.3" fill="#4f86b8" fill-opacity="0.85"/>
<ellipse cx="453.50" cy="336.50" rx="1.85" ry="1.3" fill="#4f86b8" fill-opacity="0.85"/>
<ellipse cx="432.90" cy="342.50" rx="1.85" ry="1.3" fill="#4f86b8" fill-opacity="0.85"/>
<ellipse cx="435.10" cy="344.20" rx="1.85" ry="1.3" fill="#4f86b8" fill-opacity="0.85"/>
<ellipse cx="438.20" cy="345.90" rx="1.85" ry="1.3" fill="#4f86b8" fill-opacity="0.85"/>
<ellipse cx="434.80" cy="348.90" rx="1.85" ry="1.3" fill="#4f86b8" fill-opacity="0.85"/>
<ellipse cx="444.30" cy="348.30" rx="1.85" ry="1.3" fill="#4f86b8" fill-opacity="0.85"/>
<ellipse cx="446.20" cy="347.40" rx="1.85" ry="1.3" fill="#4f86b8" fill-opacity="0.85"/>
<ellipse cx="447.60" cy="347.20" rx="1.85" ry="1.3" fill="#4f86b8" fill-opacity="0.85"/>
<ellipse cx="454.20" cy="347.00" rx="1.85" ry="1.3" fill="#4f86b8" fill-opacity="0.85"/>
<ellipse cx="454.20" cy="348.50" rx="1.85" ry="1.3" fill="#4f86b8" fill-opacity="0.85"/>
<ellipse cx="459.70" cy="343.00" rx="1.85" ry="1.3" fill="#4f86b8" fill-opacity="0.85"/>
<ellipse cx="461.60" cy="347.00" rx="1.85" ry="1.3" fill="#4f86b8" fill-opacity="0.85"/>
<ellipse cx="467.30" cy="345.40" rx="1.85" ry="1.3" fill="#4f86b8" fill-opacity="0.85"/>
<ellipse cx="471.30" cy="334.80" rx="1.85" ry="1.3" fill="#4f86b8" fill-opacity="0.85"/>
<ellipse cx="473.70" cy="338.10" rx="1.85" ry="1.3" fill="#4f86b8" fill-opacity="0.85"/>
<ellipse cx="478.10" cy="334.40" rx="1.85" ry="1.3" fill="#4f86b8" fill-opacity="0.85"/>
<ellipse cx="478.80" cy="338.60" rx="1.85" ry="1.3" fill="#4f86b8" fill-opacity="0.85"/>
<ellipse cx="478.10" cy="344.20" rx="1.85" ry="1.3" fill="#4f86b8" fill-opacity="0.85"/>
<ellipse cx="472.60" cy="346.70" rx="1.85" ry="1.3" fill="#4f86b8" fill-opacity="0.85"/>
<ellipse cx="440.30" cy="355.50" rx="1.85" ry="1.3" fill="#4f86b8" fill-opacity="0.85"/>
<ellipse cx="444.30" cy="354.70" rx="1.85" ry="1.3" fill="#4f86b8" fill-opacity="0.85"/>
<ellipse cx="444.70" cy="356.60" rx="1.85" ry="1.3" fill="#4f86b8" fill-opacity="0.85"/>
<ellipse cx="441.40" cy="358.80" rx="1.85" ry="1.3" fill="#4f86b8" fill-opacity="0.85"/>
<ellipse cx="442.80" cy="359.10" rx="1.85" ry="1.3" fill="#4f86b8" fill-opacity="0.85"/>
<ellipse cx="450.60" cy="357.00" rx="1.85" ry="1.3" fill="#4f86b8" fill-opacity="0.85"/>
<ellipse cx="452.00" cy="356.20" rx="1.85" ry="1.3" fill="#4f86b8" fill-opacity="0.85"/>
<ellipse cx="454.20" cy="354.40" rx="1.85" ry="1.3" fill="#4f86b8" fill-opacity="0.85"/>
<ellipse cx="455.30" cy="355.80" rx="1.85" ry="1.3" fill="#4f86b8" fill-opacity="0.85"/>
<ellipse cx="454.20" cy="357.70" rx="1.85" ry="1.3" fill="#4f86b8" fill-opacity="0.85"/>
<ellipse cx="456.10" cy="353.30" rx="1.85" ry="1.3" fill="#4f86b8" fill-opacity="0.85"/>
<ellipse cx="459.40" cy="355.80" rx="1.85" ry="1.3" fill="#4f86b8" fill-opacity="0.85"/>
<ellipse cx="461.60" cy="354.70" rx="1.85" ry="1.3" fill="#4f86b8" fill-opacity="0.85"/>
<ellipse cx="462.70" cy="354.40" rx="1.85" ry="1.3" fill="#4f86b8" fill-opacity="0.85"/>
<ellipse cx="464.90" cy="357.90" rx="1.85" ry="1.3" fill="#4f86b8" fill-opacity="0.85"/>
<ellipse cx="466.00" cy="352.50" rx="1.85" ry="1.3" fill="#4f86b8" fill-opacity="0.85"/>
<ellipse cx="468.20" cy="353.30" rx="1.85" ry="1.3" fill="#4f86b8" fill-opacity="0.85"/>
<ellipse cx="469.30" cy="356.20" rx="1.85" ry="1.3" fill="#4f86b8" fill-opacity="0.85"/>
<ellipse cx="471.10" cy="352.50" rx="1.85" ry="1.3" fill="#4f86b8" fill-opacity="0.85"/>
<ellipse cx="472.60" cy="351.80" rx="1.85" ry="1.3" fill="#4f86b8" fill-opacity="0.85"/>
<ellipse cx="474.10" cy="354.40" rx="1.85" ry="1.3" fill="#4f86b8" fill-opacity="0.85"/>
<ellipse cx="475.90" cy="350.70" rx="1.85" ry="1.3" fill="#4f86b8" fill-opacity="0.85"/>
<ellipse cx="479.20" cy="355.80" rx="1.85" ry="1.3" fill="#4f86b8" fill-opacity="0.85"/>
<ellipse cx="479.20" cy="358.40" rx="1.85" ry="1.3" fill="#4f86b8" fill-opacity="0.85"/>
<ellipse cx="433.70" cy="360.80" rx="1.85" ry="1.3" fill="#4f86b8" fill-opacity="0.85"/>
<ellipse cx="446.50" cy="361.70" rx="1.85" ry="1.3" fill="#4f86b8" fill-opacity="0.85"/>
<ellipse cx="448.00" cy="360.20" rx="1.85" ry="1.3" fill="#4f86b8" fill-opacity="0.85"/>
<ellipse cx="455.00" cy="361.90" rx="1.85" ry="1.3" fill="#4f86b8" fill-opacity="0.85"/>
<ellipse cx="462.70" cy="362.80" rx="1.85" ry="1.3" fill="#4f86b8" fill-opacity="0.85"/>
<ellipse cx="472.20" cy="363.50" rx="1.85" ry="1.3" fill="#4f86b8" fill-opacity="0.85"/>
<ellipse cx="452.80" cy="352.50" rx="1.85" ry="1.3" fill="#4f86b8" fill-opacity="0.85"/>
<ellipse cx="528.80" cy="325.60" rx="1.85" ry="1.3" fill="#4f86b8" fill-opacity="0.85"/>
<ellipse cx="527.00" cy="333.20" rx="1.85" ry="1.3" fill="#4f86b8" fill-opacity="0.85"/>
<ellipse cx="503.10" cy="334.90" rx="1.85" ry="1.3" fill="#4f86b8" fill-opacity="0.85"/>
<ellipse cx="491.00" cy="336.40" rx="1.85" ry="1.3" fill="#4f86b8" fill-opacity="0.85"/>
<ellipse cx="494.00" cy="338.60" rx="1.85" ry="1.3" fill="#4f86b8" fill-opacity="0.85"/>
<ellipse cx="497.60" cy="338.40" rx="1.85" ry="1.3" fill="#4f86b8" fill-opacity="0.85"/>
<ellipse cx="512.70" cy="337.50" rx="1.85" ry="1.3" fill="#4f86b8" fill-opacity="0.85"/>
<ellipse cx="525.50" cy="338.20" rx="1.85" ry="1.3" fill="#4f86b8" fill-opacity="0.85"/>
<ellipse cx="524.80" cy="340.40" rx="1.85" ry="1.3" fill="#4f86b8" fill-opacity="0.85"/>
<ellipse cx="520.40" cy="340.10" rx="1.85" ry="1.3" fill="#4f86b8" fill-opacity="0.85"/>
<ellipse cx="480.40" cy="338.60" rx="1.85" ry="1.3" fill="#4f86b8" fill-opacity="0.85"/>
<ellipse cx="483.30" cy="340.10" rx="1.85" ry="1.3" fill="#4f86b8" fill-opacity="0.85"/>
<ellipse cx="486.60" cy="339.00" rx="1.85" ry="1.3" fill="#4f86b8" fill-opacity="0.85"/>
<ellipse cx="486.20" cy="341.50" rx="1.85" ry="1.3" fill="#4f86b8" fill-opacity="0.85"/>
<ellipse cx="486.60" cy="343.40" rx="1.85" ry="1.3" fill="#4f86b8" fill-opacity="0.85"/>
<ellipse cx="491.40" cy="343.00" rx="1.85" ry="1.3" fill="#4f86b8" fill-opacity="0.85"/>
<ellipse cx="495.80" cy="341.50" rx="1.85" ry="1.3" fill="#4f86b8" fill-opacity="0.85"/>
<ellipse cx="497.60" cy="341.90" rx="1.85" ry="1.3" fill="#4f86b8" fill-opacity="0.85"/>
<ellipse cx="500.20" cy="341.20" rx="1.85" ry="1.3" fill="#4f86b8" fill-opacity="0.85"/>
<ellipse cx="502.80" cy="341.90" rx="1.85" ry="1.3" fill="#4f86b8" fill-opacity="0.85"/>
<ellipse cx="505.00" cy="342.60" rx="1.85" ry="1.3" fill="#4f86b8" fill-opacity="0.85"/>
<ellipse cx="509.00" cy="341.50" rx="1.85" ry="1.3" fill="#4f86b8" fill-opacity="0.85"/>
<ellipse cx="510.80" cy="342.60" rx="1.85" ry="1.3" fill="#4f86b8" fill-opacity="0.85"/>
<ellipse cx="513.80" cy="342.30" rx="1.85" ry="1.3" fill="#4f86b8" fill-opacity="0.85"/>
<ellipse cx="485.90" cy="345.60" rx="1.85" ry="1.3" fill="#4f86b8" fill-opacity="0.85"/>
<ellipse cx="489.50" cy="346.30" rx="1.85" ry="1.3" fill="#4f86b8" fill-opacity="0.85"/>
<ellipse cx="495.40" cy="344.50" rx="1.85" ry="1.3" fill="#4f86b8" fill-opacity="0.85"/>
<ellipse cx="510.80" cy="346.70" rx="1.85" ry="1.3" fill="#4f86b8" fill-opacity="0.85"/>
<ellipse cx="515.20" cy="346.70" rx="1.85" ry="1.3" fill="#4f86b8" fill-opacity="0.85"/>
<ellipse cx="480.00" cy="345.90" rx="1.85" ry="1.3" fill="#4f86b8" fill-opacity="0.85"/>
<ellipse cx="529.60" cy="348.50" rx="1.85" ry="1.3" fill="#4f86b8" fill-opacity="0.85"/>
<ellipse cx="484.40" cy="350.30" rx="1.85" ry="1.3" fill="#4f86b8" fill-opacity="0.85"/>
<ellipse cx="486.60" cy="351.80" rx="1.85" ry="1.3" fill="#4f86b8" fill-opacity="0.85"/>
<ellipse cx="494.00" cy="349.20" rx="1.85" ry="1.3" fill="#4f86b8" fill-opacity="0.85"/>
<ellipse cx="501.70" cy="348.50" rx="1.85" ry="1.3" fill="#4f86b8" fill-opacity="0.85"/>
<ellipse cx="501.70" cy="349.60" rx="1.85" ry="1.3" fill="#4f86b8" fill-opacity="0.85"/>
<ellipse cx="513.40" cy="349.60" rx="1.85" ry="1.3" fill="#4f86b8" fill-opacity="0.85"/>
<ellipse cx="514.10" cy="350.30" rx="1.85" ry="1.3" fill="#4f86b8" fill-opacity="0.85"/>
<ellipse cx="522.90" cy="350.00" rx="1.85" ry="1.3" fill="#4f86b8" fill-opacity="0.85"/>
<ellipse cx="525.50" cy="352.20" rx="1.85" ry="1.3" fill="#4f86b8" fill-opacity="0.85"/>
<ellipse cx="481.80" cy="355.10" rx="1.85" ry="1.3" fill="#4f86b8" fill-opacity="0.85"/>
<ellipse cx="484.40" cy="355.50" rx="1.85" ry="1.3" fill="#4f86b8" fill-opacity="0.85"/>
<ellipse cx="496.90" cy="351.80" rx="1.85" ry="1.3" fill="#4f86b8" fill-opacity="0.85"/>
<ellipse cx="502.80" cy="354.00" rx="1.85" ry="1.3" fill="#4f86b8" fill-opacity="0.85"/>
<ellipse cx="508.60" cy="356.40" rx="1.85" ry="1.3" fill="#4f86b8" fill-opacity="0.85"/>
<ellipse cx="513.40" cy="356.40" rx="1.85" ry="1.3" fill="#4f86b8" fill-opacity="0.85"/>
<ellipse cx="518.90" cy="356.60" rx="1.85" ry="1.3" fill="#4f86b8" fill-opacity="0.85"/>
<ellipse cx="489.50" cy="357.00" rx="1.85" ry="1.3" fill="#4f86b8" fill-opacity="0.85"/>
<ellipse cx="491.70" cy="354.70" rx="1.85" ry="1.3" fill="#4f86b8" fill-opacity="0.85"/>
<ellipse cx="493.60" cy="356.20" rx="1.85" ry="1.3" fill="#4f86b8" fill-opacity="0.85"/>
<ellipse cx="495.40" cy="357.30" rx="1.85" ry="1.3" fill="#4f86b8" fill-opacity="0.85"/>
<ellipse cx="491.00" cy="358.40" rx="1.85" ry="1.3" fill="#4f86b8" fill-opacity="0.85"/>
<ellipse cx="492.10" cy="359.90" rx="1.85" ry="1.3" fill="#4f86b8" fill-opacity="0.85"/>
<ellipse cx="481.80" cy="359.10" rx="1.85" ry="1.3" fill="#4f86b8" fill-opacity="0.85"/>
<ellipse cx="502.00" cy="358.80" rx="1.85" ry="1.3" fill="#4f86b8" fill-opacity="0.85"/>
<ellipse cx="503.50" cy="357.70" rx="1.85" ry="1.3" fill="#4f86b8" fill-opacity="0.85"/>
<ellipse cx="515.20" cy="361.70" rx="1.85" ry="1.3" fill="#4f86b8" fill-opacity="0.85"/>
<ellipse cx="485.50" cy="349.20" rx="1.85" ry="1.3" fill="#4f86b8" fill-opacity="0.85"/>
<polygon points="415.00,351.80 425.31,351.19 435.62,350.53 445.93,349.83 456.23,349.09 466.54,348.30 476.85,347.47 487.16,346.59 497.47,345.68 507.77,344.72 518.08,343.71 528.39,342.66 538.70,341.57 549.01,340.43 559.32,339.25 569.62,338.02 579.93,336.75 590.24,335.43 600.55,334.07 610.86,332.66 621.17,331.21 631.47,329.71 641.78,328.17 652.09,326.58 662.40,324.95 662.40,336.25 652.09,336.63 641.78,337.06 631.47,337.54 621.17,338.06 610.86,338.62 600.55,339.23 590.24,339.89 579.93,340.59 569.62,341.33 559.32,342.12 549.01,342.95 538.70,343.83 528.39,344.75 518.08,345.72 507.77,346.73 497.47,347.79 487.16,348.89 476.85,350.03 466.54,351.22 456.23,352.45 445.93,353.72 435.62,355.04 425.31,356.40 415.00,357.80" fill="#c4c4c4" fill-opacity="0.75"/>
<line x1="415.00" y1="354.80" x2="662.40" y2="330.60" stroke="#e3201b" stroke-width="2.8" />
<line x1="403.20" y1="301.30" x2="674.40" y2="301.30" stroke="#6e6e6e" stroke-width="1.0" />
<line x1="674.40" y1="301.30" x2="674.40" y2="366.10" stroke="#6e6e6e" stroke-width="1.0" />
<line x1="403.20" y1="301.30" x2="403.20" y2="366.10" stroke="#8a8a8a" stroke-width="1.3" />
<line x1="402.60" y1="366.10" x2="674.90" y2="366.10" stroke="#333" stroke-width="1.1" />
<rect x="447.40" y="366.60" width="1.20" height="1.30" fill="#333" />
<text x="448.00" y="372.60" font-size="4.6" fill="#7a7a7a" text-anchor="middle" textLength="6.4" lengthAdjust="spacingAndGlyphs">10</text>
<rect x="504.90" y="366.60" width="1.20" height="1.30" fill="#333" />
<text x="505.50" y="372.60" font-size="4.6" fill="#7a7a7a" text-anchor="middle" textLength="6.4" lengthAdjust="spacingAndGlyphs">20</text>
<rect x="562.30" y="366.60" width="1.20" height="1.30" fill="#333" />
<text x="562.90" y="372.60" font-size="4.6" fill="#7a7a7a" text-anchor="middle" textLength="6.4" lengthAdjust="spacingAndGlyphs">30</text>
<rect x="619.60" y="366.60" width="1.20" height="1.30" fill="#333" />
<text x="620.20" y="372.60" font-size="4.6" fill="#7a7a7a" text-anchor="middle" textLength="6.4" lengthAdjust="spacingAndGlyphs">40</text>
<rect x="397.45" y="314.80" width="1.30" height="1.20" fill="#333" />
<text x="395.70" y="317.00" font-size="4.6" fill="#7a7a7a" text-anchor="end" textLength="6.5" lengthAdjust="spacingAndGlyphs">75</text>
<rect x="397.45" y="333.10" width="1.30" height="1.20" fill="#333" />
<text x="395.70" y="335.30" font-size="4.6" fill="#7a7a7a" text-anchor="end" textLength="6.5" lengthAdjust="spacingAndGlyphs">50</text>
<rect x="397.45" y="351.40" width="1.30" height="1.20" fill="#333" />
<text x="395.70" y="353.60" font-size="4.6" fill="#7a7a7a" text-anchor="end" textLength="6.5" lengthAdjust="spacingAndGlyphs">25</text>
<text x="442.40" y="298.80" font-size="7.0" fill="#1a1a1a" textLength="163.20000000000005" lengthAdjust="spacingAndGlyphs">Serum iron vs TSAT (r = 0.398,<tspan font-style="italic">p</tspan>&lt;0.001 )</text>
<text x="505.50" y="379.30" font-size="6.2" fill="#111" textLength="67.5" lengthAdjust="spacingAndGlyphs" stroke="#111" stroke-width="0.12">Serum iron (μmol/L)</text>
<text transform="translate(384.90,333.90) rotate(-90)" x="0" y="0" font-size="7.0" fill="#111" text-anchor="middle" textLength="23.8" lengthAdjust="spacingAndGlyphs" stroke="#111" stroke-width="0.15">TSAT (%)</text>
<line x1="422.40" y1="394.40" x2="422.40" y2="459.90" stroke="#f3f3f3" stroke-width="0.8" />
<line x1="479.30" y1="394.40" x2="479.30" y2="459.90" stroke="#f3f3f3" stroke-width="0.8" />
<line x1="536.30" y1="394.40" x2="536.30" y2="459.90" stroke="#f3f3f3" stroke-width="0.8" />
<line x1="593.00" y1="394.40" x2="593.00" y2="459.90" stroke="#f3f3f3" stroke-width="0.8" />
<line x1="649.40" y1="394.40" x2="649.40" y2="459.90" stroke="#f3f3f3" stroke-width="0.8" />
<line x1="403.20" y1="449.50" x2="674.40" y2="449.50" stroke="#f3f3f3" stroke-width="0.8" />
<line x1="403.20" y1="432.20" x2="674.40" y2="432.20" stroke="#f3f3f3" stroke-width="0.8" />
<line x1="403.20" y1="414.90" x2="674.40" y2="414.90" stroke="#f3f3f3" stroke-width="0.8" />
<line x1="403.20" y1="397.70" x2="674.40" y2="397.70" stroke="#f3f3f3" stroke-width="0.8" />
<line x1="450.70" y1="394.40" x2="450.70" y2="459.90" stroke="#ebebeb" stroke-width="0.9" />
<line x1="507.40" y1="394.40" x2="507.40" y2="459.90" stroke="#ebebeb" stroke-width="0.9" />
<line x1="564.40" y1="394.40" x2="564.40" y2="459.90" stroke="#ebebeb" stroke-width="0.9" />
<line x1="621.40" y1="394.40" x2="621.40" y2="459.90" stroke="#ebebeb" stroke-width="0.9" />
<line x1="403.20" y1="458.00" x2="674.40" y2="458.00" stroke="#ebebeb" stroke-width="0.9" />
<line x1="403.20" y1="440.90" x2="674.40" y2="440.90" stroke="#ebebeb" stroke-width="0.9" />
<line x1="403.20" y1="423.50" x2="674.40" y2="423.50" stroke="#ebebeb" stroke-width="0.9" />
<line x1="403.20" y1="406.30" x2="674.40" y2="406.30" stroke="#ebebeb" stroke-width="0.9" />
<ellipse cx="453.90" cy="397.40" rx="1.85" ry="1.3" fill="#2a7a4c" fill-opacity="0.85"/>
<ellipse cx="440.10" cy="414.20" rx="1.85" ry="1.3" fill="#2a7a4c" fill-opacity="0.85"/>
<ellipse cx="421.80" cy="439.10" rx="1.85" ry="1.3" fill="#2a7a4c" fill-opacity="0.85"/>
<ellipse cx="414.90" cy="455.80" rx="1.85" ry="1.3" fill="#2a7a4c" fill-opacity="0.85"/>
<ellipse cx="425.30" cy="452.80" rx="1.85" ry="1.3" fill="#2a7a4c" fill-opacity="0.85"/>
<ellipse cx="427.10" cy="457.20" rx="1.85" ry="1.3" fill="#2a7a4c" fill-opacity="0.85"/>
<ellipse cx="520.60" cy="406.40" rx="1.85" ry="1.3" fill="#2a7a4c" fill-opacity="0.85"/>
<ellipse cx="525.90" cy="412.00" rx="1.85" ry="1.3" fill="#2a7a4c" fill-opacity="0.85"/>
<ellipse cx="476.90" cy="413.60" rx="1.85" ry="1.3" fill="#2a7a4c" fill-opacity="0.85"/>
<ellipse cx="483.70" cy="413.40" rx="1.85" ry="1.3" fill="#2a7a4c" fill-opacity="0.85"/>
<ellipse cx="502.50" cy="414.20" rx="1.85" ry="1.3" fill="#2a7a4c" fill-opacity="0.85"/>
<ellipse cx="471.30" cy="421.80" rx="1.85" ry="1.3" fill="#2a7a4c" fill-opacity="0.85"/>
<ellipse cx="512.60" cy="420.30" rx="1.85" ry="1.3" fill="#2a7a4c" fill-opacity="0.85"/>
<ellipse cx="535.40" cy="420.30" rx="1.85" ry="1.3" fill="#2a7a4c" fill-opacity="0.85"/>
<ellipse cx="529.20" cy="424.90" rx="1.85" ry="1.3" fill="#2a7a4c" fill-opacity="0.85"/>
<ellipse cx="536.90" cy="437.60" rx="1.85" ry="1.3" fill="#2a7a4c" fill-opacity="0.85"/>
<ellipse cx="530.40" cy="447.70" rx="1.85" ry="1.3" fill="#2a7a4c" fill-opacity="0.85"/>
<ellipse cx="537.20" cy="437.60" rx="1.85" ry="1.3" fill="#2a7a4c" fill-opacity="0.85"/>
<ellipse cx="549.60" cy="440.30" rx="1.85" ry="1.3" fill="#2a7a4c" fill-opacity="0.85"/>
<ellipse cx="539.50" cy="445.30" rx="1.85" ry="1.3" fill="#2a7a4c" fill-opacity="0.85"/>
<ellipse cx="547.30" cy="446.20" rx="1.85" ry="1.3" fill="#2a7a4c" fill-opacity="0.85"/>
<ellipse cx="561.50" cy="446.70" rx="1.85" ry="1.3" fill="#2a7a4c" fill-opacity="0.85"/>
<ellipse cx="562.70" cy="442.90" rx="1.85" ry="1.3" fill="#2a7a4c" fill-opacity="0.85"/>
<ellipse cx="573.20" cy="447.40" rx="1.85" ry="1.3" fill="#2a7a4c" fill-opacity="0.85"/>
<ellipse cx="543.50" cy="452.10" rx="1.85" ry="1.3" fill="#2a7a4c" fill-opacity="0.85"/>
<ellipse cx="539.50" cy="456.30" rx="1.85" ry="1.3" fill="#2a7a4c" fill-opacity="0.85"/>
<ellipse cx="586.50" cy="456.80" rx="1.85" ry="1.3" fill="#2a7a4c" fill-opacity="0.85"/>
<ellipse cx="595.00" cy="453.30" rx="1.85" ry="1.3" fill="#2a7a4c" fill-opacity="0.85"/>
<ellipse cx="644.00" cy="443.50" rx="1.85" ry="1.3" fill="#2a7a4c" fill-opacity="0.85"/>
<ellipse cx="620.80" cy="455.10" rx="1.85" ry="1.3" fill="#2a7a4c" fill-opacity="0.85"/>
<ellipse cx="662.20" cy="456.00" rx="1.85" ry="1.3" fill="#2a7a4c" fill-opacity="0.85"/>
<ellipse cx="478.00" cy="426.80" rx="1.85" ry="1.3" fill="#2a7a4c" fill-opacity="0.85"/>
<ellipse cx="454.50" cy="431.20" rx="1.85" ry="1.3" fill="#2a7a4c" fill-opacity="0.85"/>
<ellipse cx="438.40" cy="438.10" rx="1.85" ry="1.3" fill="#2a7a4c" fill-opacity="0.85"/>
<ellipse cx="444.60" cy="440.50" rx="1.85" ry="1.3" fill="#2a7a4c" fill-opacity="0.85"/>
<ellipse cx="446.80" cy="444.00" rx="1.85" ry="1.3" fill="#2a7a4c" fill-opacity="0.85"/>
<ellipse cx="454.80" cy="436.70" rx="1.85" ry="1.3" fill="#2a7a4c" fill-opacity="0.85"/>
<ellipse cx="465.80" cy="436.70" rx="1.85" ry="1.3" fill="#2a7a4c" fill-opacity="0.85"/>
<ellipse cx="462.10" cy="440.70" rx="1.85" ry="1.3" fill="#2a7a4c" fill-opacity="0.85"/>
<ellipse cx="472.30" cy="440.70" rx="1.85" ry="1.3" fill="#2a7a4c" fill-opacity="0.85"/>
<ellipse cx="478.90" cy="439.60" rx="1.85" ry="1.3" fill="#2a7a4c" fill-opacity="0.85"/>
<ellipse cx="465.00" cy="445.10" rx="1.85" ry="1.3" fill="#2a7a4c" fill-opacity="0.85"/>
<ellipse cx="472.70" cy="444.70" rx="1.85" ry="1.3" fill="#2a7a4c" fill-opacity="0.85"/>
<ellipse cx="433.60" cy="449.80" rx="1.85" ry="1.3" fill="#2a7a4c" fill-opacity="0.85"/>
<ellipse cx="435.10" cy="453.10" rx="1.85" ry="1.3" fill="#2a7a4c" fill-opacity="0.85"/>
<ellipse cx="433.30" cy="455.70" rx="1.85" ry="1.3" fill="#2a7a4c" fill-opacity="0.85"/>
<ellipse cx="435.80" cy="456.40" rx="1.85" ry="1.3" fill="#2a7a4c" fill-opacity="0.85"/>
<ellipse cx="441.00" cy="450.90" rx="1.85" ry="1.3" fill="#2a7a4c" fill-opacity="0.85"/>
<ellipse cx="441.70" cy="452.70" rx="1.85" ry="1.3" fill="#2a7a4c" fill-opacity="0.85"/>
<ellipse cx="444.20" cy="453.10" rx="1.85" ry="1.3" fill="#2a7a4c" fill-opacity="0.85"/>
<ellipse cx="445.00" cy="455.30" rx="1.85" ry="1.3" fill="#2a7a4c" fill-opacity="0.85"/>
<ellipse cx="446.80" cy="455.70" rx="1.85" ry="1.3" fill="#2a7a4c" fill-opacity="0.85"/>
<ellipse cx="448.20" cy="453.80" rx="1.85" ry="1.3" fill="#2a7a4c" fill-opacity="0.85"/>
<ellipse cx="450.40" cy="451.30" rx="1.85" ry="1.3" fill="#2a7a4c" fill-opacity="0.85"/>
<ellipse cx="451.90" cy="450.20" rx="1.85" ry="1.3" fill="#2a7a4c" fill-opacity="0.85"/>
<ellipse cx="453.40" cy="452.00" rx="1.85" ry="1.3" fill="#2a7a4c" fill-opacity="0.85"/>
<ellipse cx="454.80" cy="454.20" rx="1.85" ry="1.3" fill="#2a7a4c" fill-opacity="0.85"/>
<ellipse cx="454.10" cy="456.80" rx="1.85" ry="1.3" fill="#2a7a4c" fill-opacity="0.85"/>
<ellipse cx="456.30" cy="455.70" rx="1.85" ry="1.3" fill="#2a7a4c" fill-opacity="0.85"/>
<ellipse cx="459.20" cy="456.80" rx="1.85" ry="1.3" fill="#2a7a4c" fill-opacity="0.85"/>
<ellipse cx="459.90" cy="450.20" rx="1.85" ry="1.3" fill="#2a7a4c" fill-opacity="0.85"/>
<ellipse cx="462.10" cy="453.10" rx="1.85" ry="1.3" fill="#2a7a4c" fill-opacity="0.85"/>
<ellipse cx="465.00" cy="451.60" rx="1.85" ry="1.3" fill="#2a7a4c" fill-opacity="0.85"/>
<ellipse cx="467.20" cy="450.20" rx="1.85" ry="1.3" fill="#2a7a4c" fill-opacity="0.85"/>
<ellipse cx="468.70" cy="452.40" rx="1.85" ry="1.3" fill="#2a7a4c" fill-opacity="0.85"/>
<ellipse cx="468.00" cy="456.40" rx="1.85" ry="1.3" fill="#2a7a4c" fill-opacity="0.85"/>
<ellipse cx="470.90" cy="450.50" rx="1.85" ry="1.3" fill="#2a7a4c" fill-opacity="0.85"/>
<ellipse cx="472.70" cy="453.10" rx="1.85" ry="1.3" fill="#2a7a4c" fill-opacity="0.85"/>
<ellipse cx="473.80" cy="454.90" rx="1.85" ry="1.3" fill="#2a7a4c" fill-opacity="0.85"/>
<ellipse cx="476.00" cy="456.40" rx="1.85" ry="1.3" fill="#2a7a4c" fill-opacity="0.85"/>
<ellipse cx="477.80" cy="451.30" rx="1.85" ry="1.3" fill="#2a7a4c" fill-opacity="0.85"/>
<ellipse cx="478.90" cy="454.20" rx="1.85" ry="1.3" fill="#2a7a4c" fill-opacity="0.85"/>
<ellipse cx="470.90" cy="455.70" rx="1.85" ry="1.3" fill="#2a7a4c" fill-opacity="0.85"/>
<ellipse cx="449.70" cy="456.40" rx="1.85" ry="1.3" fill="#2a7a4c" fill-opacity="0.85"/>
<ellipse cx="497.20" cy="428.30" rx="1.85" ry="1.3" fill="#2a7a4c" fill-opacity="0.85"/>
<ellipse cx="513.20" cy="427.90" rx="1.85" ry="1.3" fill="#2a7a4c" fill-opacity="0.85"/>
<ellipse cx="513.60" cy="431.60" rx="1.85" ry="1.3" fill="#2a7a4c" fill-opacity="0.85"/>
<ellipse cx="519.10" cy="430.10" rx="1.85" ry="1.3" fill="#2a7a4c" fill-opacity="0.85"/>
<ellipse cx="528.90" cy="425.40" rx="1.85" ry="1.3" fill="#2a7a4c" fill-opacity="0.85"/>
<ellipse cx="482.60" cy="435.60" rx="1.85" ry="1.3" fill="#2a7a4c" fill-opacity="0.85"/>
<ellipse cx="486.90" cy="437.30" rx="1.85" ry="1.3" fill="#2a7a4c" fill-opacity="0.85"/>
<ellipse cx="480.40" cy="440.00" rx="1.85" ry="1.3" fill="#2a7a4c" fill-opacity="0.85"/>
<ellipse cx="486.20" cy="441.80" rx="1.85" ry="1.3" fill="#2a7a4c" fill-opacity="0.85"/>
<ellipse cx="499.00" cy="433.90" rx="1.85" ry="1.3" fill="#2a7a4c" fill-opacity="0.85"/>
<ellipse cx="503.40" cy="436.50" rx="1.85" ry="1.3" fill="#2a7a4c" fill-opacity="0.85"/>
<ellipse cx="500.40" cy="438.10" rx="1.85" ry="1.3" fill="#2a7a4c" fill-opacity="0.85"/>
<ellipse cx="496.40" cy="439.80" rx="1.85" ry="1.3" fill="#2a7a4c" fill-opacity="0.85"/>
<ellipse cx="504.10" cy="439.20" rx="1.85" ry="1.3" fill="#2a7a4c" fill-opacity="0.85"/>
<ellipse cx="504.50" cy="440.70" rx="1.85" ry="1.3" fill="#2a7a4c" fill-opacity="0.85"/>
<ellipse cx="509.20" cy="440.00" rx="1.85" ry="1.3" fill="#2a7a4c" fill-opacity="0.85"/>
<ellipse cx="510.30" cy="442.20" rx="1.85" ry="1.3" fill="#2a7a4c" fill-opacity="0.85"/>
<ellipse cx="511.80" cy="436.30" rx="1.85" ry="1.3" fill="#2a7a4c" fill-opacity="0.85"/>
<ellipse cx="513.20" cy="442.20" rx="1.85" ry="1.3" fill="#2a7a4c" fill-opacity="0.85"/>
<ellipse cx="520.10" cy="441.80" rx="1.85" ry="1.3" fill="#2a7a4c" fill-opacity="0.85"/>
<ellipse cx="502.60" cy="444.00" rx="1.85" ry="1.3" fill="#2a7a4c" fill-opacity="0.85"/>
<ellipse cx="480.70" cy="449.80" rx="1.85" ry="1.3" fill="#2a7a4c" fill-opacity="0.85"/>
<ellipse cx="484.00" cy="450.50" rx="1.85" ry="1.3" fill="#2a7a4c" fill-opacity="0.85"/>
<ellipse cx="486.60" cy="450.20" rx="1.85" ry="1.3" fill="#2a7a4c" fill-opacity="0.85"/>
<ellipse cx="488.80" cy="449.10" rx="1.85" ry="1.3" fill="#2a7a4c" fill-opacity="0.85"/>
<ellipse cx="490.90" cy="450.50" rx="1.85" ry="1.3" fill="#2a7a4c" fill-opacity="0.85"/>
<ellipse cx="492.40" cy="452.00" rx="1.85" ry="1.3" fill="#2a7a4c" fill-opacity="0.85"/>
<ellipse cx="494.60" cy="450.20" rx="1.85" ry="1.3" fill="#2a7a4c" fill-opacity="0.85"/>
<ellipse cx="497.20" cy="451.60" rx="1.85" ry="1.3" fill="#2a7a4c" fill-opacity="0.85"/>
<ellipse cx="499.30" cy="450.20" rx="1.85" ry="1.3" fill="#2a7a4c" fill-opacity="0.85"/>
<ellipse cx="501.90" cy="449.10" rx="1.85" ry="1.3" fill="#2a7a4c" fill-opacity="0.85"/>
<ellipse cx="504.80" cy="448.70" rx="1.85" ry="1.3" fill="#2a7a4c" fill-opacity="0.85"/>
<ellipse cx="481.10" cy="454.60" rx="1.85" ry="1.3" fill="#2a7a4c" fill-opacity="0.85"/>
<ellipse cx="485.80" cy="454.20" rx="1.85" ry="1.3" fill="#2a7a4c" fill-opacity="0.85"/>
<ellipse cx="489.90" cy="454.90" rx="1.85" ry="1.3" fill="#2a7a4c" fill-opacity="0.85"/>
<ellipse cx="494.20" cy="455.30" rx="1.85" ry="1.3" fill="#2a7a4c" fill-opacity="0.85"/>
<ellipse cx="496.40" cy="454.60" rx="1.85" ry="1.3" fill="#2a7a4c" fill-opacity="0.85"/>
<ellipse cx="501.20" cy="451.30" rx="1.85" ry="1.3" fill="#2a7a4c" fill-opacity="0.85"/>
<ellipse cx="509.20" cy="453.10" rx="1.85" ry="1.3" fill="#2a7a4c" fill-opacity="0.85"/>
<ellipse cx="514.30" cy="452.70" rx="1.85" ry="1.3" fill="#2a7a4c" fill-opacity="0.85"/>
<ellipse cx="516.10" cy="452.70" rx="1.85" ry="1.3" fill="#2a7a4c" fill-opacity="0.85"/>
<ellipse cx="513.20" cy="454.90" rx="1.85" ry="1.3" fill="#2a7a4c" fill-opacity="0.85"/>
<ellipse cx="515.00" cy="455.70" rx="1.85" ry="1.3" fill="#2a7a4c" fill-opacity="0.85"/>
<ellipse cx="521.20" cy="448.70" rx="1.85" ry="1.3" fill="#2a7a4c" fill-opacity="0.85"/>
<ellipse cx="525.30" cy="448.70" rx="1.85" ry="1.3" fill="#2a7a4c" fill-opacity="0.85"/>
<ellipse cx="526.70" cy="447.60" rx="1.85" ry="1.3" fill="#2a7a4c" fill-opacity="0.85"/>
<ellipse cx="522.30" cy="451.90" rx="1.85" ry="1.3" fill="#2a7a4c" fill-opacity="0.85"/>
<ellipse cx="525.60" cy="453.80" rx="1.85" ry="1.3" fill="#2a7a4c" fill-opacity="0.85"/>
<ellipse cx="484.40" cy="452.70" rx="1.85" ry="1.3" fill="#2a7a4c" fill-opacity="0.85"/>
<ellipse cx="488.00" cy="452.40" rx="1.85" ry="1.3" fill="#2a7a4c" fill-opacity="0.85"/>
<polygon points="415.10,446.10 425.40,446.02 435.71,445.91 446.01,445.78 456.32,445.63 466.62,445.45 476.93,445.25 487.23,445.02 497.53,444.77 507.84,444.50 518.14,444.20 528.45,443.84 538.75,443.43 549.05,442.96 559.36,442.43 569.66,441.84 579.97,441.20 590.27,440.49 600.58,439.72 610.88,438.90 621.18,438.02 631.49,437.08 641.79,436.08 652.10,435.02 662.40,433.90 662.40,447.90 652.10,447.38 641.79,446.92 631.49,446.52 621.18,446.18 610.88,445.90 600.58,445.68 590.27,445.51 579.97,445.40 569.66,445.36 559.36,445.37 549.05,445.44 538.75,445.57 528.45,445.76 518.14,446.00 507.84,446.30 497.53,446.63 487.23,446.98 476.93,447.35 466.62,447.75 456.32,448.17 446.01,448.62 435.71,449.09 425.40,449.58 415.10,450.10" fill="#c4c4c4" fill-opacity="0.75"/>
<line x1="415.10" y1="448.10" x2="662.40" y2="440.90" stroke="#e3201b" stroke-width="2.8" />
<line x1="403.20" y1="394.40" x2="674.40" y2="394.40" stroke="#6e6e6e" stroke-width="1.0" />
<line x1="674.40" y1="394.40" x2="674.40" y2="459.90" stroke="#6e6e6e" stroke-width="1.0" />
<line x1="403.20" y1="394.40" x2="403.20" y2="459.90" stroke="#8a8a8a" stroke-width="1.3" />
<line x1="402.60" y1="459.90" x2="674.90" y2="459.90" stroke="#333" stroke-width="1.1" />
<rect x="450.20" y="460.40" width="1.20" height="1.30" fill="#333" />
<text x="450.80" y="465.50" font-size="4.6" fill="#7a7a7a" text-anchor="middle" textLength="6.4" lengthAdjust="spacingAndGlyphs">10</text>
<rect x="507.20" y="460.40" width="1.20" height="1.30" fill="#333" />
<text x="507.80" y="465.50" font-size="4.6" fill="#7a7a7a" text-anchor="middle" textLength="6.4" lengthAdjust="spacingAndGlyphs">20</text>
<rect x="564.10" y="460.40" width="1.20" height="1.30" fill="#333" />
<text x="564.70" y="465.50" font-size="4.6" fill="#7a7a7a" text-anchor="middle" textLength="6.4" lengthAdjust="spacingAndGlyphs">30</text>
<rect x="621.20" y="460.40" width="1.20" height="1.30" fill="#333" />
<text x="621.80" y="465.50" font-size="4.6" fill="#7a7a7a" text-anchor="middle" textLength="6.4" lengthAdjust="spacingAndGlyphs">40</text>
<rect x="401.25" y="457.40" width="1.30" height="1.20" fill="#333" />
<text x="398.60" y="459.60" font-size="4.6" fill="#7a7a7a" text-anchor="end" textLength="3.25" lengthAdjust="spacingAndGlyphs">0</text>
<rect x="401.25" y="440.30" width="1.30" height="1.20" fill="#333" />
<text x="398.60" y="442.50" font-size="4.6" fill="#7a7a7a" text-anchor="end" textLength="9.75" lengthAdjust="spacingAndGlyphs">250</text>
<rect x="401.25" y="422.90" width="1.30" height="1.20" fill="#333" />
<text x="398.60" y="425.10" font-size="4.6" fill="#7a7a7a" text-anchor="end" textLength="9.75" lengthAdjust="spacingAndGlyphs">500</text>
<rect x="401.25" y="405.70" width="1.30" height="1.20" fill="#333" />
<text x="398.60" y="407.90" font-size="4.6" fill="#7a7a7a" text-anchor="end" textLength="9.75" lengthAdjust="spacingAndGlyphs">750</text>
<text x="442.90" y="391.90" font-size="7.0" fill="#1a1a1a" textLength="169.0" lengthAdjust="spacingAndGlyphs">Serum iron vs Ferritin (r = 0.106,<tspan font-style="italic">p</tspan>=0.146 )</text>
<text x="505.90" y="473.40" font-size="6.2" fill="#111" textLength="67.70000000000005" lengthAdjust="spacingAndGlyphs" stroke="#111" stroke-width="0.12">Serum iron (μmol/L)</text>
<text transform="translate(384.90,427.40) rotate(-90)" x="0" y="0" font-size="7.0" fill="#111" text-anchor="middle" textLength="36.8" lengthAdjust="spacingAndGlyphs" stroke="#111" stroke-width="0.15">Ferritin (ng/mL)</text>
<line x1="426.20" y1="487.70" x2="426.20" y2="553.20" stroke="#f3f3f3" stroke-width="0.8" />
<line x1="501.60" y1="487.70" x2="501.60" y2="553.20" stroke="#f3f3f3" stroke-width="0.8" />
<line x1="576.40" y1="487.70" x2="576.40" y2="553.20" stroke="#f3f3f3" stroke-width="0.8" />
<line x1="651.50" y1="487.70" x2="651.50" y2="553.20" stroke="#f3f3f3" stroke-width="0.8" />
<line x1="403.20" y1="542.80" x2="674.40" y2="542.80" stroke="#f3f3f3" stroke-width="0.8" />
<line x1="403.20" y1="525.60" x2="674.40" y2="525.60" stroke="#f3f3f3" stroke-width="0.8" />
<line x1="403.20" y1="508.40" x2="674.40" y2="508.40" stroke="#f3f3f3" stroke-width="0.8" />
<line x1="403.20" y1="491.20" x2="674.40" y2="491.20" stroke="#f3f3f3" stroke-width="0.8" />
<line x1="463.90" y1="487.70" x2="463.90" y2="553.20" stroke="#ebebeb" stroke-width="0.9" />
<line x1="538.60" y1="487.70" x2="538.60" y2="553.20" stroke="#ebebeb" stroke-width="0.9" />
<line x1="614.60" y1="487.70" x2="614.60" y2="553.20" stroke="#ebebeb" stroke-width="0.9" />
<line x1="403.20" y1="551.50" x2="674.40" y2="551.50" stroke="#ebebeb" stroke-width="0.9" />
<line x1="403.20" y1="534.20" x2="674.40" y2="534.20" stroke="#ebebeb" stroke-width="0.9" />
<line x1="403.20" y1="517.00" x2="674.40" y2="517.00" stroke="#ebebeb" stroke-width="0.9" />
<line x1="403.20" y1="499.80" x2="674.40" y2="499.80" stroke="#ebebeb" stroke-width="0.9" />
<ellipse cx="432.10" cy="507.60" rx="1.85" ry="1.3" fill="#7c5cb8" fill-opacity="0.85"/>
<ellipse cx="448.40" cy="507.60" rx="1.85" ry="1.3" fill="#7c5cb8" fill-opacity="0.85"/>
<ellipse cx="463.00" cy="505.00" rx="1.85" ry="1.3" fill="#7c5cb8" fill-opacity="0.85"/>
<ellipse cx="465.40" cy="507.20" rx="1.85" ry="1.3" fill="#7c5cb8" fill-opacity="0.85"/>
<ellipse cx="422.00" cy="530.60" rx="1.85" ry="1.3" fill="#7c5cb8" fill-opacity="0.85"/>
<ellipse cx="418.20" cy="533.80" rx="1.85" ry="1.3" fill="#7c5cb8" fill-opacity="0.85"/>
<ellipse cx="414.90" cy="547.40" rx="1.85" ry="1.3" fill="#7c5cb8" fill-opacity="0.85"/>
<ellipse cx="422.60" cy="550.20" rx="1.85" ry="1.3" fill="#7c5cb8" fill-opacity="0.85"/>
<ellipse cx="526.60" cy="490.80" rx="1.85" ry="1.3" fill="#7c5cb8" fill-opacity="0.85"/>
<ellipse cx="511.60" cy="507.00" rx="1.85" ry="1.3" fill="#7c5cb8" fill-opacity="0.85"/>
<ellipse cx="486.40" cy="513.70" rx="1.85" ry="1.3" fill="#7c5cb8" fill-opacity="0.85"/>
<ellipse cx="501.00" cy="513.70" rx="1.85" ry="1.3" fill="#7c5cb8" fill-opacity="0.85"/>
<ellipse cx="534.20" cy="515.40" rx="1.85" ry="1.3" fill="#7c5cb8" fill-opacity="0.85"/>
<ellipse cx="537.50" cy="530.90" rx="1.85" ry="1.3" fill="#7c5cb8" fill-opacity="0.85"/>
<ellipse cx="526.20" cy="541.60" rx="1.85" ry="1.3" fill="#7c5cb8" fill-opacity="0.85"/>
<ellipse cx="531.00" cy="540.90" rx="1.85" ry="1.3" fill="#7c5cb8" fill-opacity="0.85"/>
<ellipse cx="527.20" cy="544.60" rx="1.85" ry="1.3" fill="#7c5cb8" fill-opacity="0.85"/>
<ellipse cx="535.50" cy="544.60" rx="1.85" ry="1.3" fill="#7c5cb8" fill-opacity="0.85"/>
<ellipse cx="572.80" cy="518.30" rx="1.85" ry="1.3" fill="#7c5cb8" fill-opacity="0.85"/>
<ellipse cx="540.40" cy="541.30" rx="1.85" ry="1.3" fill="#7c5cb8" fill-opacity="0.85"/>
<ellipse cx="543.50" cy="540.30" rx="1.85" ry="1.3" fill="#7c5cb8" fill-opacity="0.85"/>
<ellipse cx="559.40" cy="541.40" rx="1.85" ry="1.3" fill="#7c5cb8" fill-opacity="0.85"/>
<ellipse cx="554.40" cy="546.40" rx="1.85" ry="1.3" fill="#7c5cb8" fill-opacity="0.85"/>
<ellipse cx="548.80" cy="550.20" rx="1.85" ry="1.3" fill="#7c5cb8" fill-opacity="0.85"/>
<ellipse cx="591.80" cy="540.40" rx="1.85" ry="1.3" fill="#7c5cb8" fill-opacity="0.85"/>
<ellipse cx="602.50" cy="544.80" rx="1.85" ry="1.3" fill="#7c5cb8" fill-opacity="0.85"/>
<ellipse cx="662.20" cy="500.00" rx="1.85" ry="1.3" fill="#7c5cb8" fill-opacity="0.85"/>
<ellipse cx="627.70" cy="536.90" rx="1.85" ry="1.3" fill="#7c5cb8" fill-opacity="0.85"/>
<ellipse cx="445.40" cy="521.80" rx="1.85" ry="1.3" fill="#7c5cb8" fill-opacity="0.85"/>
<ellipse cx="444.30" cy="523.50" rx="1.85" ry="1.3" fill="#7c5cb8" fill-opacity="0.85"/>
<ellipse cx="471.70" cy="524.40" rx="1.85" ry="1.3" fill="#7c5cb8" fill-opacity="0.85"/>
<ellipse cx="433.80" cy="529.30" rx="1.85" ry="1.3" fill="#7c5cb8" fill-opacity="0.85"/>
<ellipse cx="448.70" cy="529.30" rx="1.85" ry="1.3" fill="#7c5cb8" fill-opacity="0.85"/>
<ellipse cx="460.00" cy="530.20" rx="1.85" ry="1.3" fill="#7c5cb8" fill-opacity="0.85"/>
<ellipse cx="463.00" cy="530.90" rx="1.85" ry="1.3" fill="#7c5cb8" fill-opacity="0.85"/>
<ellipse cx="465.90" cy="530.20" rx="1.85" ry="1.3" fill="#7c5cb8" fill-opacity="0.85"/>
<ellipse cx="437.80" cy="533.50" rx="1.85" ry="1.3" fill="#7c5cb8" fill-opacity="0.85"/>
<ellipse cx="441.80" cy="532.60" rx="1.85" ry="1.3" fill="#7c5cb8" fill-opacity="0.85"/>
<ellipse cx="445.80" cy="534.20" rx="1.85" ry="1.3" fill="#7c5cb8" fill-opacity="0.85"/>
<ellipse cx="452.00" cy="536.60" rx="1.85" ry="1.3" fill="#7c5cb8" fill-opacity="0.85"/>
<ellipse cx="455.70" cy="537.50" rx="1.85" ry="1.3" fill="#7c5cb8" fill-opacity="0.85"/>
<ellipse cx="463.00" cy="537.40" rx="1.85" ry="1.3" fill="#7c5cb8" fill-opacity="0.85"/>
<ellipse cx="466.20" cy="538.10" rx="1.85" ry="1.3" fill="#7c5cb8" fill-opacity="0.85"/>
<ellipse cx="470.60" cy="538.60" rx="1.85" ry="1.3" fill="#7c5cb8" fill-opacity="0.85"/>
<ellipse cx="474.30" cy="534.20" rx="1.85" ry="1.3" fill="#7c5cb8" fill-opacity="0.85"/>
<ellipse cx="438.50" cy="539.10" rx="1.85" ry="1.3" fill="#7c5cb8" fill-opacity="0.85"/>
<ellipse cx="452.40" cy="539.60" rx="1.85" ry="1.3" fill="#7c5cb8" fill-opacity="0.85"/>
<ellipse cx="430.10" cy="546.30" rx="1.85" ry="1.3" fill="#7c5cb8" fill-opacity="0.85"/>
<ellipse cx="434.50" cy="546.30" rx="1.85" ry="1.3" fill="#7c5cb8" fill-opacity="0.85"/>
<ellipse cx="439.20" cy="547.70" rx="1.85" ry="1.3" fill="#7c5cb8" fill-opacity="0.85"/>
<ellipse cx="438.10" cy="549.90" rx="1.85" ry="1.3" fill="#7c5cb8" fill-opacity="0.85"/>
<ellipse cx="442.50" cy="544.10" rx="1.85" ry="1.3" fill="#7c5cb8" fill-opacity="0.85"/>
<ellipse cx="445.10" cy="545.90" rx="1.85" ry="1.3" fill="#7c5cb8" fill-opacity="0.85"/>
<ellipse cx="445.80" cy="548.80" rx="1.85" ry="1.3" fill="#7c5cb8" fill-opacity="0.85"/>
<ellipse cx="445.40" cy="550.30" rx="1.85" ry="1.3" fill="#7c5cb8" fill-opacity="0.85"/>
<ellipse cx="449.80" cy="547.70" rx="1.85" ry="1.3" fill="#7c5cb8" fill-opacity="0.85"/>
<ellipse cx="450.90" cy="549.60" rx="1.85" ry="1.3" fill="#7c5cb8" fill-opacity="0.85"/>
<ellipse cx="452.40" cy="545.90" rx="1.85" ry="1.3" fill="#7c5cb8" fill-opacity="0.85"/>
<ellipse cx="454.20" cy="544.80" rx="1.85" ry="1.3" fill="#7c5cb8" fill-opacity="0.85"/>
<ellipse cx="456.40" cy="545.20" rx="1.85" ry="1.3" fill="#7c5cb8" fill-opacity="0.85"/>
<ellipse cx="458.60" cy="544.10" rx="1.85" ry="1.3" fill="#7c5cb8" fill-opacity="0.85"/>
<ellipse cx="455.30" cy="549.90" rx="1.85" ry="1.3" fill="#7c5cb8" fill-opacity="0.85"/>
<ellipse cx="459.30" cy="548.10" rx="1.85" ry="1.3" fill="#7c5cb8" fill-opacity="0.85"/>
<ellipse cx="461.50" cy="549.20" rx="1.85" ry="1.3" fill="#7c5cb8" fill-opacity="0.85"/>
<ellipse cx="463.70" cy="549.60" rx="1.85" ry="1.3" fill="#7c5cb8" fill-opacity="0.85"/>
<ellipse cx="468.80" cy="544.10" rx="1.85" ry="1.3" fill="#7c5cb8" fill-opacity="0.85"/>
<ellipse cx="470.30" cy="546.30" rx="1.85" ry="1.3" fill="#7c5cb8" fill-opacity="0.85"/>
<ellipse cx="469.50" cy="548.80" rx="1.85" ry="1.3" fill="#7c5cb8" fill-opacity="0.85"/>
<ellipse cx="471.70" cy="545.50" rx="1.85" ry="1.3" fill="#7c5cb8" fill-opacity="0.85"/>
<ellipse cx="473.20" cy="543.40" rx="1.85" ry="1.3" fill="#7c5cb8" fill-opacity="0.85"/>
<ellipse cx="473.50" cy="547.70" rx="1.85" ry="1.3" fill="#7c5cb8" fill-opacity="0.85"/>
<ellipse cx="468.10" cy="549.90" rx="1.85" ry="1.3" fill="#7c5cb8" fill-opacity="0.85"/>
<ellipse cx="441.80" cy="543.40" rx="1.85" ry="1.3" fill="#7c5cb8" fill-opacity="0.85"/>
<ellipse cx="447.60" cy="544.10" rx="1.85" ry="1.3" fill="#7c5cb8" fill-opacity="0.85"/>
<ellipse cx="485.20" cy="521.60" rx="1.85" ry="1.3" fill="#7c5cb8" fill-opacity="0.85"/>
<ellipse cx="495.40" cy="520.60" rx="1.85" ry="1.3" fill="#7c5cb8" fill-opacity="0.85"/>
<ellipse cx="482.30" cy="524.70" rx="1.85" ry="1.3" fill="#7c5cb8" fill-opacity="0.85"/>
<ellipse cx="506.40" cy="525.50" rx="1.85" ry="1.3" fill="#7c5cb8" fill-opacity="0.85"/>
<ellipse cx="504.90" cy="528.00" rx="1.85" ry="1.3" fill="#7c5cb8" fill-opacity="0.85"/>
<ellipse cx="482.70" cy="529.90" rx="1.85" ry="1.3" fill="#7c5cb8" fill-opacity="0.85"/>
<ellipse cx="488.10" cy="531.30" rx="1.85" ry="1.3" fill="#7c5cb8" fill-opacity="0.85"/>
<ellipse cx="506.40" cy="530.60" rx="1.85" ry="1.3" fill="#7c5cb8" fill-opacity="0.85"/>
<ellipse cx="514.80" cy="530.60" rx="1.85" ry="1.3" fill="#7c5cb8" fill-opacity="0.85"/>
<ellipse cx="476.50" cy="533.90" rx="1.85" ry="1.3" fill="#7c5cb8" fill-opacity="0.85"/>
<ellipse cx="482.30" cy="534.60" rx="1.85" ry="1.3" fill="#7c5cb8" fill-opacity="0.85"/>
<ellipse cx="484.50" cy="533.90" rx="1.85" ry="1.3" fill="#7c5cb8" fill-opacity="0.85"/>
<ellipse cx="487.00" cy="535.30" rx="1.85" ry="1.3" fill="#7c5cb8" fill-opacity="0.85"/>
<ellipse cx="489.20" cy="534.00" rx="1.85" ry="1.3" fill="#7c5cb8" fill-opacity="0.85"/>
<ellipse cx="493.20" cy="535.30" rx="1.85" ry="1.3" fill="#7c5cb8" fill-opacity="0.85"/>
<ellipse cx="496.20" cy="533.30" rx="1.85" ry="1.3" fill="#7c5cb8" fill-opacity="0.85"/>
<ellipse cx="504.60" cy="532.80" rx="1.85" ry="1.3" fill="#7c5cb8" fill-opacity="0.85"/>
<ellipse cx="507.50" cy="533.50" rx="1.85" ry="1.3" fill="#7c5cb8" fill-opacity="0.85"/>
<ellipse cx="512.60" cy="535.20" rx="1.85" ry="1.3" fill="#7c5cb8" fill-opacity="0.85"/>
<ellipse cx="496.20" cy="536.60" rx="1.85" ry="1.3" fill="#7c5cb8" fill-opacity="0.85"/>
<ellipse cx="514.80" cy="538.60" rx="1.85" ry="1.3" fill="#7c5cb8" fill-opacity="0.85"/>
<ellipse cx="523.20" cy="535.70" rx="1.85" ry="1.3" fill="#7c5cb8" fill-opacity="0.85"/>
<ellipse cx="475.40" cy="543.00" rx="1.85" ry="1.3" fill="#7c5cb8" fill-opacity="0.85"/>
<ellipse cx="477.20" cy="545.50" rx="1.85" ry="1.3" fill="#7c5cb8" fill-opacity="0.85"/>
<ellipse cx="476.50" cy="548.10" rx="1.85" ry="1.3" fill="#7c5cb8" fill-opacity="0.85"/>
<ellipse cx="478.30" cy="549.90" rx="1.85" ry="1.3" fill="#7c5cb8" fill-opacity="0.85"/>
<ellipse cx="482.30" cy="548.10" rx="1.85" ry="1.3" fill="#7c5cb8" fill-opacity="0.85"/>
<ellipse cx="483.40" cy="544.10" rx="1.85" ry="1.3" fill="#7c5cb8" fill-opacity="0.85"/>
<ellipse cx="485.90" cy="543.70" rx="1.85" ry="1.3" fill="#7c5cb8" fill-opacity="0.85"/>
<ellipse cx="488.10" cy="546.30" rx="1.85" ry="1.3" fill="#7c5cb8" fill-opacity="0.85"/>
<ellipse cx="489.60" cy="547.70" rx="1.85" ry="1.3" fill="#7c5cb8" fill-opacity="0.85"/>
<ellipse cx="487.80" cy="541.90" rx="1.85" ry="1.3" fill="#7c5cb8" fill-opacity="0.85"/>
<ellipse cx="492.50" cy="548.50" rx="1.85" ry="1.3" fill="#7c5cb8" fill-opacity="0.85"/>
<ellipse cx="493.20" cy="541.20" rx="1.85" ry="1.3" fill="#7c5cb8" fill-opacity="0.85"/>
<ellipse cx="494.00" cy="543.70" rx="1.85" ry="1.3" fill="#7c5cb8" fill-opacity="0.85"/>
<ellipse cx="495.10" cy="549.90" rx="1.85" ry="1.3" fill="#7c5cb8" fill-opacity="0.85"/>
<ellipse cx="497.60" cy="545.20" rx="1.85" ry="1.3" fill="#7c5cb8" fill-opacity="0.85"/>
<ellipse cx="499.80" cy="542.60" rx="1.85" ry="1.3" fill="#7c5cb8" fill-opacity="0.85"/>
<ellipse cx="500.50" cy="544.10" rx="1.85" ry="1.3" fill="#7c5cb8" fill-opacity="0.85"/>
<ellipse cx="502.00" cy="549.20" rx="1.85" ry="1.3" fill="#7c5cb8" fill-opacity="0.85"/>
<ellipse cx="504.60" cy="540.80" rx="1.85" ry="1.3" fill="#7c5cb8" fill-opacity="0.85"/>
<ellipse cx="505.30" cy="545.90" rx="1.85" ry="1.3" fill="#7c5cb8" fill-opacity="0.85"/>
<ellipse cx="507.80" cy="544.80" rx="1.85" ry="1.3" fill="#7c5cb8" fill-opacity="0.85"/>
<ellipse cx="509.70" cy="542.60" rx="1.85" ry="1.3" fill="#7c5cb8" fill-opacity="0.85"/>
<ellipse cx="510.80" cy="542.30" rx="1.85" ry="1.3" fill="#7c5cb8" fill-opacity="0.85"/>
<ellipse cx="518.80" cy="540.80" rx="1.85" ry="1.3" fill="#7c5cb8" fill-opacity="0.85"/>
<ellipse cx="518.80" cy="544.10" rx="1.85" ry="1.3" fill="#7c5cb8" fill-opacity="0.85"/>
<ellipse cx="520.30" cy="547.40" rx="1.85" ry="1.3" fill="#7c5cb8" fill-opacity="0.85"/>
<ellipse cx="518.40" cy="549.20" rx="1.85" ry="1.3" fill="#7c5cb8" fill-opacity="0.85"/>
<ellipse cx="521.70" cy="549.60" rx="1.85" ry="1.3" fill="#7c5cb8" fill-opacity="0.85"/>
<ellipse cx="480.80" cy="549.20" rx="1.85" ry="1.3" fill="#7c5cb8" fill-opacity="0.85"/>
<polygon points="415.20,541.30 425.50,540.95 435.80,540.59 446.10,540.19 456.40,539.78 466.70,539.33 477.00,538.87 487.30,538.38 497.60,537.87 507.90,537.33 518.20,536.77 528.50,536.15 538.80,535.48 549.10,534.75 559.40,533.96 569.70,533.10 580.00,532.20 590.30,531.23 600.60,530.20 610.90,529.11 621.20,527.97 631.50,526.76 641.80,525.50 652.10,524.18 662.40,522.80 662.40,536.80 652.10,536.54 641.80,536.35 631.50,536.21 621.20,536.13 610.90,536.11 600.60,536.15 590.30,536.25 580.00,536.40 569.70,536.62 559.40,536.89 549.10,537.23 538.80,537.62 528.50,538.07 518.20,538.58 507.90,539.14 497.60,539.73 487.30,540.34 477.00,540.98 466.70,541.64 456.40,542.32 446.10,543.03 435.80,543.76 425.50,544.52 415.20,545.30" fill="#c4c4c4" fill-opacity="0.75"/>
<line x1="415.20" y1="543.30" x2="662.40" y2="529.80" stroke="#e3201b" stroke-width="2.8" />
<line x1="403.20" y1="487.70" x2="674.40" y2="487.70" stroke="#6e6e6e" stroke-width="1.0" />
<line x1="674.40" y1="487.70" x2="674.40" y2="553.20" stroke="#6e6e6e" stroke-width="1.0" />
<line x1="403.20" y1="487.70" x2="403.20" y2="553.20" stroke="#8a8a8a" stroke-width="1.3" />
<line x1="402.60" y1="553.20" x2="674.90" y2="553.20" stroke="#333" stroke-width="1.1" />
<rect x="462.90" y="553.70" width="1.20" height="1.30" fill="#333" />
<text x="463.50" y="559.60" font-size="4.6" fill="#7a7a7a" text-anchor="middle" textLength="6.4" lengthAdjust="spacingAndGlyphs">25</text>
<rect x="537.90" y="553.70" width="1.20" height="1.30" fill="#333" />
<text x="538.50" y="559.60" font-size="4.6" fill="#7a7a7a" text-anchor="middle" textLength="6.4" lengthAdjust="spacingAndGlyphs">50</text>
<rect x="613.20" y="553.70" width="1.20" height="1.30" fill="#333" />
<text x="613.80" y="559.60" font-size="4.6" fill="#7a7a7a" text-anchor="middle" textLength="6.4" lengthAdjust="spacingAndGlyphs">75</text>
<rect x="401.35" y="550.90" width="1.30" height="1.20" fill="#333" />
<text x="399.60" y="553.10" font-size="4.6" fill="#7a7a7a" text-anchor="end" textLength="3.25" lengthAdjust="spacingAndGlyphs">0</text>
<rect x="401.35" y="533.60" width="1.30" height="1.20" fill="#333" />
<text x="399.60" y="535.80" font-size="4.6" fill="#7a7a7a" text-anchor="end" textLength="9.75" lengthAdjust="spacingAndGlyphs">250</text>
<rect x="401.35" y="516.40" width="1.30" height="1.20" fill="#333" />
<text x="399.60" y="518.60" font-size="4.6" fill="#7a7a7a" text-anchor="end" textLength="9.75" lengthAdjust="spacingAndGlyphs">500</text>
<rect x="401.35" y="499.20" width="1.30" height="1.20" fill="#333" />
<text x="399.60" y="501.40" font-size="4.6" fill="#7a7a7a" text-anchor="end" textLength="9.75" lengthAdjust="spacingAndGlyphs">750</text>
<text x="443.60" y="484.60" font-size="7.0" fill="#1a1a1a" textLength="145.60000000000002" lengthAdjust="spacingAndGlyphs">TSAT vs Ferritin (r = 0.201,<tspan font-style="italic">p</tspan>=0.006 )</text>
<text x="506.60" y="567.60" font-size="6.2" fill="#111" textLength="32.89999999999998" lengthAdjust="spacingAndGlyphs" stroke="#111" stroke-width="0.12">TSAT (%)</text>
<text transform="translate(385.30,520.90) rotate(-90)" x="0" y="0" font-size="7.0" fill="#111" text-anchor="middle" textLength="38.0" lengthAdjust="spacingAndGlyphs" stroke="#111" stroke-width="0.15">Ferritin (ng/mL)</text>
</svg>
</body></html>
